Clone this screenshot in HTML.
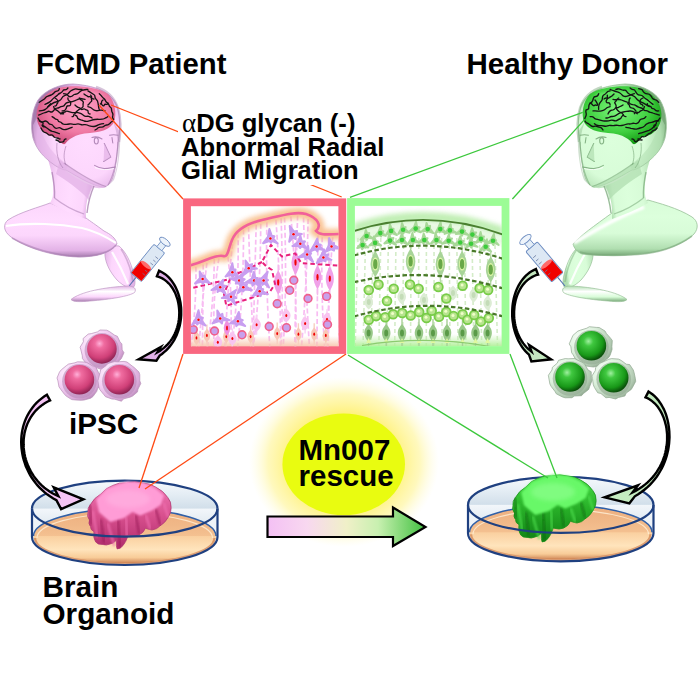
<!DOCTYPE html>
<html><head><meta charset="utf-8"><style>html,body{margin:0;padding:0;background:#fff;width:700px;height:700px;overflow:hidden}svg{display:block}</style></head><body><svg width="700" height="700" viewBox="0 0 700 700"><defs>
<radialGradient id="glow" cx="0.5" cy="0.5" r="0.5">
  <stop offset="0" stop-color="#fff050" stop-opacity="1"/>
  <stop offset="0.55" stop-color="#fff070" stop-opacity="0.95"/>
  <stop offset="0.8" stop-color="#fff59a" stop-opacity="0.65"/>
  <stop offset="1" stop-color="#fffbd0" stop-opacity="0"/>
</radialGradient>
<linearGradient id="arrowg" x1="0" y1="0" x2="1" y2="0">
  <stop offset="0" stop-color="#f4c0f4"/>
  <stop offset="0.25" stop-color="#f8d8f0"/>
  <stop offset="0.5" stop-color="#f0f0c8"/>
  <stop offset="0.7" stop-color="#c8f0b0"/>
  <stop offset="1" stop-color="#40c040"/>
</linearGradient>
<filter id="blur2" x="-20%" y="-20%" width="140%" height="140%"><feGaussianBlur stdDeviation="2"/></filter>
<filter id="blur1"><feGaussianBlur stdDeviation="0.8"/></filter>
<filter id="blur6" x="-50%" y="-50%" width="200%" height="200%"><feGaussianBlur stdDeviation="8"/></filter>

<linearGradient id="pk_sh" x1="0" y1="0" x2="0" y2="1">
  <stop offset="0" stop-color="#fcd6fc"/><stop offset="0.3" stop-color="#ffdcff"/><stop offset="0.6" stop-color="#fcd6fc"/><stop offset="0.88" stop-color="#e2b2e6"/><stop offset="1" stop-color="#a67cae"/>
</linearGradient>
<linearGradient id="pk_nk" x1="0" y1="0" x2="1" y2="0.2">
  <stop offset="0" stop-color="#e2b2e6"/><stop offset="0.3" stop-color="#fcd6fc"/><stop offset="0.6" stop-color="#ffdcff"/><stop offset="0.9" stop-color="#fcd6fc"/><stop offset="1" stop-color="#e2b2e6"/>
</linearGradient>
<radialGradient id="pk_hd" cx="0.62" cy="0.55" r="0.62">
  <stop offset="0" stop-color="#ffdcff"/><stop offset="0.6" stop-color="#fcd6fc"/><stop offset="0.9" stop-color="#e2b2e6"/><stop offset="1" stop-color="#a67cae"/>
</radialGradient>
<linearGradient id="pk_arm" x1="0" y1="0" x2="0" y2="1">
  <stop offset="0" stop-color="#e2b2e6"/><stop offset="0.35" stop-color="#ffffff"/><stop offset="0.7" stop-color="#fcd6fc"/><stop offset="1" stop-color="#a67cae"/>
</linearGradient>
<radialGradient id="pk_br" cx="0.55" cy="0.4" r="0.6">
  <stop offset="0" stop-color="#ffa4c8"/><stop offset="0.65" stop-color="#f07aa4"/><stop offset="1" stop-color="#d0507e"/>
</radialGradient>

<linearGradient id="gr_sh" x1="0" y1="0" x2="0" y2="1">
  <stop offset="0" stop-color="#d8fcd8"/><stop offset="0.3" stop-color="#dcffdc"/><stop offset="0.6" stop-color="#d8fcd8"/><stop offset="0.88" stop-color="#b0deb0"/><stop offset="1" stop-color="#78a878"/>
</linearGradient>
<linearGradient id="gr_nk" x1="0" y1="0" x2="1" y2="0.2">
  <stop offset="0" stop-color="#b0deb0"/><stop offset="0.3" stop-color="#d8fcd8"/><stop offset="0.6" stop-color="#dcffdc"/><stop offset="0.9" stop-color="#d8fcd8"/><stop offset="1" stop-color="#b0deb0"/>
</linearGradient>
<radialGradient id="gr_hd" cx="0.62" cy="0.55" r="0.62">
  <stop offset="0" stop-color="#dcffdc"/><stop offset="0.6" stop-color="#d8fcd8"/><stop offset="0.9" stop-color="#b0deb0"/><stop offset="1" stop-color="#78a878"/>
</radialGradient>
<linearGradient id="gr_arm" x1="0" y1="0" x2="0" y2="1">
  <stop offset="0" stop-color="#b0deb0"/><stop offset="0.35" stop-color="#ffffff"/><stop offset="0.7" stop-color="#d8fcd8"/><stop offset="1" stop-color="#78a878"/>
</linearGradient>
<radialGradient id="gr_br" cx="0.55" cy="0.4" r="0.6">
  <stop offset="0" stop-color="#80f880"/><stop offset="0.65" stop-color="#40d040"/><stop offset="1" stop-color="#18a018"/>
</radialGradient>

<linearGradient id="glass" x1="0" y1="0" x2="0" y2="1">
  <stop offset="0" stop-color="#f6f9fc"/><stop offset="0.25" stop-color="#e4edf4"/><stop offset="0.49" stop-color="#d2dfea"/><stop offset="0.51" stop-color="#f2f6fa"/><stop offset="0.8" stop-color="#e0e9f1"/><stop offset="1" stop-color="#c8d6e2"/>
</linearGradient>
<linearGradient id="medium" x1="0" y1="0" x2="0" y2="1">
  <stop offset="0" stop-color="#eeae7e"/><stop offset="0.3" stop-color="#f0b888"/><stop offset="0.49" stop-color="#f4c090"/><stop offset="0.51" stop-color="#fad0a0"/><stop offset="0.75" stop-color="#ffe4bc"/><stop offset="0.9" stop-color="#f8cc98"/><stop offset="1" stop-color="#d08858"/>
</linearGradient>
<radialGradient id="pkc_sph" cx="0.42" cy="0.32" r="0.7">
  <stop offset="0" stop-color="#ffb0d8"/><stop offset="0.22" stop-color="#f06ca0"/><stop offset="0.7" stop-color="#d04078"/><stop offset="1" stop-color="#882050"/>
</radialGradient>
<radialGradient id="pkc_ring" cx="0.3" cy="0.3" r="0.85">
  <stop offset="0" stop-color="#fff4ff"/><stop offset="0.45" stop-color="#f4d0f4"/><stop offset="0.8" stop-color="#d8a8d8"/><stop offset="1" stop-color="#a878a8"/>
</radialGradient>
<radialGradient id="grc_sph" cx="0.4" cy="0.35" r="0.65">
  <stop offset="0" stop-color="#a0f0a0"/><stop offset="0.25" stop-color="#40c840"/><stop offset="0.75" stop-color="#189818"/><stop offset="1" stop-color="#0a500a"/>
</radialGradient>
<radialGradient id="grc_ring" cx="0.3" cy="0.3" r="0.85">
  <stop offset="0" stop-color="#f8fff8"/><stop offset="0.45" stop-color="#dcf0dc"/><stop offset="0.8" stop-color="#b0c8b0"/><stop offset="1" stop-color="#809880"/>
</radialGradient>
<linearGradient id="pko_org" x1="0" y1="0" x2="0" y2="1">
  <stop offset="0" stop-color="#f27ab8"/><stop offset="0.5" stop-color="#d8508e"/><stop offset="1" stop-color="#b02c6c"/>
</linearGradient>
<linearGradient id="gro_org" x1="0" y1="0" x2="0" y2="1">
  <stop offset="0" stop-color="#48e048"/><stop offset="0.5" stop-color="#28b028"/><stop offset="1" stop-color="#108014"/>
</linearGradient>

<filter id="blur3" x="-20%" y="-50%" width="140%" height="200%"><feGaussianBlur stdDeviation="2.6"/></filter>
<clipPath id="clipL"><rect x="191" y="206.2" width="147.6" height="140"/></clipPath>
<clipPath id="clipR"><rect x="355" y="206" width="147" height="140"/></clipPath>
<linearGradient id="botL" x1="0" y1="0" x2="0" y2="1"><stop offset="0" stop-color="#f8c8b0" stop-opacity="0"/><stop offset="1" stop-color="#f8c8b0"/></linearGradient>
<linearGradient id="topR" x1="0" y1="0" x2="0" y2="1"><stop offset="0" stop-color="#c0f0a8" stop-opacity="0"/><stop offset="0.6" stop-color="#c0f0a8" stop-opacity="0.75"/><stop offset="1" stop-color="#98e080"/></linearGradient>
<linearGradient id="botR" x1="0" y1="0" x2="0" y2="1"><stop offset="0" stop-color="#c0f0a8" stop-opacity="0"/><stop offset="1" stop-color="#b0f098"/></linearGradient>
</defs><rect width="700" height="700" fill="#fff"/><g><path d="M105 256 C104 249 111 245 119 246 C126 252 131 262 134 275 C136 283 135 288 131 288.5 C125 287 120 283 117 280 C110 272 106 264 105 256 Z" fill="url(#pk_nk)" stroke="#c09ac6" stroke-width="0.7"/><path d="M112 252 C118 262 123 272 128 284" fill="none" stroke="#ffffff" stroke-width="2.2" opacity="0.9"/><path d="M121 249 C127 258 131 268 133 282" fill="none" stroke="#a67cae" stroke-width="1.6" opacity="0.45"/><path d="M71 299.5 C80 292 105 287 128 286 C134 286 137 289 134.5 292.5 C130 296 110 299.5 90 301 C80 302 73 302 71 299.5 Z" fill="url(#pk_arm)" stroke="#c09ac6" stroke-width="0.7"/><path d="M50 203 C40 207 20 212 8 220 C3 224 3 231 11 237 C25 247 50 256 78 257 C95 257 110 254 117 244 C116 238 110 234 104 231 C96 225 90 221 86 218 Z" fill="url(#pk_sh)" stroke="#c09ac6" stroke-width="0.8"/><path d="M6 226 C30 222 60 224 82 228 C95 231 108 238 116 243" fill="none" stroke="#ffffff" stroke-width="2.2"/><path d="M12 238 C30 248 55 256 80 256.5 C98 256 110 252 116 245" fill="none" stroke="#a67cae" stroke-width="1.6" opacity="0.55"/><path d="M47 157 C52 170 54 185 53 194 C53 198 51 201 50 203 C62 210 75 215 86 219 C85 205 88 193 93 186 C82 182 70 175 60 166 Z" fill="url(#pk_nk)"/><path d="M73 84 C60 84 45 90 38 100 C32 110 30 125 33 138 C36 148 42 155 48 160 C55 166 62 170 66 170 C80 178 95 187 104 187 C108 186 111 183 113 177 C116 168 117 155 118 142 C120 132 121 118 117 106 C112 94 100 86 73 84Z" fill="url(#pk_hd)" stroke="#c09ac6" stroke-width="0.8"/><path d="M96 87 C106 90 114 97 118 108 C121 118 121 130 119 142" fill="none" stroke="#a67cae" stroke-width="2.4" opacity="0.45"/><path d="M33 125 C33 140 40 152 48 160 C55 166 62 170 66 170 L68 165 C58 158 50 150 45 140 C41 132 38 125 37 118 Z" fill="#e2b2e6" opacity="0.5"/><path d="M60 160 C72 170 90 182 107 187 C100 189 95 188 93 187 C90 192 89 196 89 200 C80 190 66 180 56 174 Z" fill="#e2b2e6" opacity="0.75"/><path d="M64 163 C78 173 92 182 106 186.5" fill="none" stroke="#a67cae" stroke-width="1.2" opacity="0.6"/><path d="M118 142 C117 160 114 175 108 185" fill="none" stroke="#a67cae" stroke-width="1.2" opacity="0.6"/><path d="M52 172 C54 182 55 190 54.5 198" fill="none" stroke="#a67cae" stroke-width="1.4" opacity="0.7"/><path d="M94 186 C90 195 88 204 87 213" fill="none" stroke="#a67cae" stroke-width="1.4" opacity="0.75"/><path d="M54.5 198 C62 204 72 210 84 214" fill="none" stroke="#a67cae" stroke-width="1.2" opacity="0.55"/><path d="M57 143 C56 152 58 162 63 168 M66 146 C64 152 63 158 66 165" fill="none" stroke="#a67cae" stroke-width="1" opacity="0.6"/><path d="M112 120 C118 130 119 150 117 165 C115 175 112 182 108 186 L114 180 C118 170 121 150 120 132 Z" fill="#a67cae" opacity="0.35"/><g fill="none" stroke="#a67cae" stroke-width="1.1" opacity="0.85" stroke-linecap="round"><ellipse cx="96.3" cy="140.8" rx="2" ry="3.2"/><path d="M92 137.5 C95 136.5 99 137 102 139"/><path d="M109.5 135.2 C112 134.6 115 134.6 118 135.2"/><path d="M112 137.5 C112.3 139.5 112.5 141.5 112.8 143"/><path d="M104.3 143.5 L110.7 157 L103.6 161.5"/><path d="M94.6 165.4 C98 167.5 101 168.6 104.3 168.6 C108 168.6 112 167.6 115.2 167"/></g><path d="M104.3 143.5 L110.7 157 L103.6 161.5 Z" fill="#e2b2e6" opacity="0.7"/><path d="M95 167.5 C101 170 108 170 114 168.5" fill="none" stroke="#ffffff" stroke-width="1" opacity="0.8"/><path d="M68 86.5 C55 87 44 94 39 104 C35 113 36 122 41 129 C46 135 52 137 57 137 C59 141 62 145 65 144 C68 140 74 134 90 133 C100 132 110 130 114 122 C117 114 115 101 108 94 C100 88 80 85.5 68 86.5 Z" fill="url(#pk_br)"/><path d="M45 104 C60 93 85 90 102 96" fill="none" stroke="#ffa4c8" stroke-width="3" opacity="0.5" filter="url(#blur1)"/><g fill="none" stroke="#141414" stroke-width="1.35" stroke-linecap="round" stroke-linejoin="round"><path d="M39.3 102.3 Q41.9 100.7 43.2 99.8 Q44.5 99.0 45.4 97.8 Q46.4 96.6 48.0 96.1 Q49.7 95.6 51.2 95.0 Q52.8 94.3 53.9 93.0 Q55.0 91.6 55.9 91.4 Q56.8 91.2 57.7 90.9 Q58.5 90.6 58.9 89.7 L59.3 88.7"/><path d="M45.0 104.4 Q48.4 102.9 49.8 101.9 Q51.3 100.9 52.4 99.4 Q53.6 98.0 55.0 97.0 Q56.4 96.1 57.7 94.9 Q58.9 93.6 60.5 93.0 Q62.1 92.3 62.7 91.0 Q63.2 89.7 64.7 89.8 Q66.2 89.8 67.1 88.9 L67.9 88.0"/><path d="M47.9 106.6 Q51.0 104.5 52.6 103.4 Q54.1 102.4 56.0 102.0 Q57.9 101.6 59.4 100.7 Q61.0 99.8 61.9 98.0 Q62.8 96.3 64.6 95.7 Q66.4 95.1 67.4 94.3 Q68.4 93.5 69.2 92.5 Q70.0 91.5 71.0 90.8 Q72.1 90.1 73.7 89.4 Q75.3 88.6 77.1 89.1 Q78.8 89.7 80.4 89.5 L82.1 89.4"/><path d="M63.6 93.7 Q66.7 93.9 67.8 95.4 Q68.8 96.9 70.5 96.7 Q72.1 96.6 73.0 95.4 Q74.0 94.3 75.6 94.2 Q77.2 94.2 78.2 93.3 Q79.3 92.3 80.5 91.3 Q81.8 90.2 83.3 90.0 Q84.8 89.7 86.4 89.5 L87.9 89.4"/><path d="M38.6 115.1 Q41.2 114.1 42.4 113.5 Q43.7 112.9 45.0 112.6 Q46.4 112.3 47.5 111.6 Q48.6 110.8 50.0 111.6 Q51.4 112.4 52.5 111.6 Q53.6 110.9 54.4 109.6 Q55.3 108.3 56.8 108.2 Q58.3 108.0 59.5 107.3 Q60.7 106.6 62.4 106.4 Q64.1 106.2 65.0 104.4 Q65.9 102.7 67.6 102.5 Q69.3 102.3 70.8 101.9 Q72.2 101.5 73.7 101.1 Q75.1 100.7 76.5 100.0 Q77.9 99.4 79.1 98.8 Q80.3 98.1 81.5 98.6 Q82.6 99.1 83.8 99.2 L85.0 99.4"/><path d="M79.3 98.0 Q80.6 99.6 81.4 100.2 Q82.3 100.7 83.0 101.5 Q83.6 102.3 83.2 103.2 Q82.9 104.1 83.1 105.2 Q83.4 106.3 82.7 107.2 Q82.1 108.0 80.6 108.6 Q79.2 109.2 78.0 110.2 Q76.8 111.1 75.9 112.4 Q75.0 113.7 74.4 114.0 Q73.7 114.4 73.7 115.3 Q73.7 116.3 72.9 116.5 L72.1 116.6"/><path d="M87.9 90.9 Q90.3 92.2 91.4 93.0 Q92.5 93.8 93.8 94.5 Q95.0 95.1 94.9 96.5 Q94.9 97.9 95.9 98.9 Q97.0 99.9 97.5 101.1 Q97.9 102.3 98.1 103.5 Q98.3 104.7 98.5 105.9 Q98.6 107.1 98.9 108.2 L99.3 109.4"/><path d="M99.3 93.7 Q101.3 95.5 102.0 96.7 Q102.8 97.8 103.9 98.6 Q105.0 99.4 105.5 100.7 Q106.0 102.0 107.4 102.9 Q108.7 103.7 109.0 105.1 Q109.3 106.6 110.4 107.2 Q111.5 107.9 111.5 109.1 Q111.5 110.2 111.8 111.3 Q112.1 112.3 112.7 113.4 Q113.2 114.5 112.7 115.9 Q112.2 117.2 112.9 118.3 L113.6 119.4"/><path d="M60.7 113.7 Q62.3 112.2 63.5 112.2 Q64.7 112.3 65.6 111.6 Q66.4 110.9 68.0 111.4 Q69.7 111.9 71.3 112.3 Q72.9 112.8 74.7 112.6 Q76.4 112.3 78.0 112.6 Q79.7 112.9 81.1 113.7 Q82.5 114.5 83.7 115.5 Q85.0 116.6 86.3 116.3 Q87.6 116.1 88.7 116.4 Q89.9 116.8 91.0 117.4 L92.1 118.0"/><path d="M75.0 115.1 Q77.2 115.8 77.3 117.1 Q77.5 118.4 78.4 118.9 Q79.3 119.4 80.9 119.9 Q82.6 120.3 84.2 121.0 Q85.8 121.6 87.5 121.3 Q89.3 120.9 91.2 120.3 Q93.0 119.8 94.9 119.5 Q96.8 119.2 98.8 119.3 Q100.7 119.4 102.0 119.2 Q103.3 119.1 104.5 118.5 Q105.7 117.9 106.8 117.3 L107.9 116.6"/><path d="M39.3 120.9 Q42.0 122.7 43.6 121.6 Q45.3 120.5 46.6 121.4 Q47.9 122.3 48.7 123.3 Q49.4 124.3 50.8 124.3 Q52.3 124.4 52.9 125.5 Q53.6 126.6 54.8 127.7 Q56.0 128.8 57.8 128.0 Q59.7 127.2 60.9 128.3 Q62.1 129.4 63.9 129.6 Q65.7 129.7 67.3 129.1 Q68.9 128.5 70.5 127.9 L72.1 127.3"/><path d="M42.1 125.1 Q45.2 126.7 46.5 127.8 Q47.9 128.9 49.3 129.9 Q50.7 130.9 52.2 131.3 Q53.6 131.6 55.1 132.1 Q56.5 132.6 57.9 133.2 L59.3 133.7"/><path d="M52.1 116.6 Q54.0 117.6 54.8 118.4 Q55.6 119.2 56.7 119.3 Q57.9 119.4 58.1 120.6 Q58.4 121.7 59.7 121.8 Q61.1 121.9 61.6 122.8 Q62.1 123.7 63.5 124.1 Q65.0 124.4 66.4 124.4 Q67.8 124.3 69.3 124.0 Q70.7 123.7 72.6 124.2 Q74.4 124.6 76.4 124.1 Q78.4 123.5 80.3 124.3 Q82.1 125.1 83.9 124.7 Q85.6 124.3 87.2 125.0 Q88.8 125.8 90.5 126.2 Q92.1 126.6 94.1 126.5 Q96.1 126.3 97.8 125.1 Q99.6 124.0 101.6 123.8 L103.6 123.7"/><path d="M87.9 106.6 Q91.1 107.2 92.2 108.6 Q93.4 109.9 94.9 110.4 Q96.4 110.9 97.8 110.7 Q99.3 110.4 100.7 110.2 Q102.1 110.1 103.6 110.5 L105.0 110.9"/><path d="M39.3 110.9 Q41.8 110.6 43.0 110.4 Q44.3 110.2 45.3 109.4 Q46.4 108.7 47.1 107.9 Q47.9 107.1 48.6 106.2 Q49.3 105.4 50.0 104.5 L50.7 103.7"/><path d="M53.6 106.6 Q54.2 108.8 55.2 109.3 Q56.1 109.8 57.0 110.4 Q57.9 110.9 58.7 111.7 Q59.5 112.5 60.3 113.1 Q61.2 113.8 62.4 113.7 L63.6 113.7"/><path d="M90.7 95.1 Q92.1 96.8 91.6 98.0 Q91.1 99.1 91.6 100.0 Q92.1 100.9 91.3 101.5 Q90.4 102.0 89.9 102.9 Q89.3 103.7 88.6 104.4 L87.9 105.1"/><path d="M67.9 98.0 Q67.7 100.5 69.2 100.9 Q70.7 101.4 70.7 102.5 Q70.7 103.7 70.5 104.9 Q70.2 106.1 68.5 105.8 Q66.8 105.6 66.6 106.8 Q66.4 108.0 65.9 108.8 Q65.5 109.7 64.8 110.3 Q64.1 110.8 63.1 110.9 L62.1 110.9"/><path d="M41.0 128.0 Q42.2 130.6 43.2 131.4 Q44.2 132.3 45.6 132.6 Q47.0 133.0 47.9 134.1 Q48.8 135.3 50.5 135.0 Q52.2 134.7 53.1 135.8 Q54.0 137.0 55.0 137.5 Q55.9 137.9 57.0 138.0 Q58.1 138.1 59.0 138.6 L60.0 139.0"/><path d="M38.0 118.0 Q38.9 119.8 39.5 120.5 Q40.0 121.3 41.0 121.7 Q42.0 122.0 42.7 122.7 Q43.5 123.3 42.8 124.6 Q42.0 125.9 43.0 126.4 L44.0 127.0"/><path d="M56.0 140.0 Q58.1 140.3 58.9 141.4 Q59.6 142.5 60.8 142.2 Q62.0 142.0 63.0 141.9 Q63.9 141.8 64.0 140.6 Q64.2 139.4 65.1 139.2 L66.0 139.0"/><path d="M103.0 100.0 Q101.4 100.9 101.6 102.0 Q101.7 103.2 100.8 103.6 Q100.0 104.0 100.9 104.0 Q101.7 103.9 102.1 104.8 Q102.5 105.6 103.3 105.8 Q104.0 106.0 104.3 105.0 Q104.6 104.0 105.9 104.3 Q107.1 104.6 107.6 103.8 L108.0 103.0"/><path d="M75.0 105.0 Q76.5 106.4 77.2 106.9 Q78.0 107.5 79.0 107.7 Q80.0 108.0 80.8 108.9 Q81.6 109.9 82.9 109.2 Q84.3 108.5 85.1 109.3 Q86.0 110.0 87.1 110.2 Q88.2 110.5 88.1 111.9 Q88.0 113.3 89.0 113.7 L90.0 114.0"/><path d="M55.0 98.0 Q56.9 99.1 57.4 100.0 Q57.9 100.8 57.9 101.9 Q58.0 103.0 57.4 103.4 Q56.8 103.8 56.7 104.7 Q56.6 105.6 55.8 105.8 L55.0 106.0"/><path d="M95.0 130.0 Q96.7 129.1 97.4 128.4 Q98.1 127.6 99.1 127.3 Q100.0 127.0 101.5 127.1 Q102.9 127.3 104.0 126.2 Q105.2 125.1 106.6 125.0 Q108.0 125.0 108.8 124.3 Q109.7 123.7 110.4 122.8 Q111.1 122.0 112.0 121.5 L113.0 121.0"/><path d="M84.0 94.0 Q85.3 95.1 86.1 95.3 Q87.0 95.5 87.5 96.3 Q88.0 97.0 89.2 96.7 Q90.4 96.4 91.1 97.6 Q91.9 98.7 92.9 98.9 L94.0 99.0"/></g></g><g transform="translate(698 0) scale(-1 1)"><path d="M105 256 C104 249 111 245 119 246 C126 252 131 262 134 275 C136 283 135 288 131 288.5 C125 287 120 283 117 280 C110 272 106 264 105 256 Z" fill="url(#gr_nk)" stroke="#98c098" stroke-width="0.7"/><path d="M112 252 C118 262 123 272 128 284" fill="none" stroke="#ffffff" stroke-width="2.2" opacity="0.9"/><path d="M121 249 C127 258 131 268 133 282" fill="none" stroke="#78a878" stroke-width="1.6" opacity="0.45"/><path d="M71 299.5 C80 292 105 287 128 286 C134 286 137 289 134.5 292.5 C130 296 110 299.5 90 301 C80 302 73 302 71 299.5 Z" fill="url(#gr_arm)" stroke="#98c098" stroke-width="0.7"/><path d="M50 200 C40 203 20 208 6 217 C0 221 -1 228 4 234 C14 244 35 252 58 254 C80 256 100 256 116 254 C121 252 124 248 125 244 C118 236 104 226 86 213 Z" fill="url(#gr_sh)" stroke="#98c098" stroke-width="0.8"/><path d="M54 207 C75 215 100 228 124 243" fill="none" stroke="#ffffff" stroke-width="3.5" filter="url(#blur1)"/><path d="M6 236 C20 246 40 253 60 254.5 C85 256 105 256 118 252" fill="none" stroke="#78a878" stroke-width="1.6" opacity="0.55"/><path d="M47 157 C52 170 54 185 53 194 C53 198 51 201 50 203 C62 210 75 215 86 219 C85 205 88 193 93 186 C82 182 70 175 60 166 Z" fill="url(#gr_nk)"/><path d="M73 84 C60 84 45 90 38 100 C32 110 30 125 33 138 C36 148 42 155 48 160 C55 166 62 170 66 170 C80 178 95 187 104 187 C108 186 111 183 113 177 C116 168 117 155 118 142 C120 132 121 118 117 106 C112 94 100 86 73 84Z" fill="url(#gr_hd)" stroke="#98c098" stroke-width="0.8"/><path d="M96 87 C106 90 114 97 118 108 C121 118 121 130 119 142" fill="none" stroke="#78a878" stroke-width="2.4" opacity="0.45"/><path d="M33 125 C33 140 40 152 48 160 C55 166 62 170 66 170 L68 165 C58 158 50 150 45 140 C41 132 38 125 37 118 Z" fill="#b0deb0" opacity="0.5"/><path d="M60 160 C72 170 90 182 107 187 C100 189 95 188 93 187 C90 192 89 196 89 200 C80 190 66 180 56 174 Z" fill="#b0deb0" opacity="0.75"/><path d="M64 163 C78 173 92 182 106 186.5" fill="none" stroke="#78a878" stroke-width="1.2" opacity="0.6"/><path d="M118 142 C117 160 114 175 108 185" fill="none" stroke="#78a878" stroke-width="1.2" opacity="0.6"/><path d="M52 172 C54 182 55 190 54.5 198" fill="none" stroke="#78a878" stroke-width="1.4" opacity="0.7"/><path d="M94 186 C90 195 88 204 87 213" fill="none" stroke="#78a878" stroke-width="1.4" opacity="0.75"/><path d="M54.5 198 C62 204 72 210 84 214" fill="none" stroke="#78a878" stroke-width="1.2" opacity="0.55"/><path d="M57 143 C56 152 58 162 63 168 M66 146 C64 152 63 158 66 165" fill="none" stroke="#78a878" stroke-width="1" opacity="0.6"/><path d="M112 120 C118 130 119 150 117 165 C115 175 112 182 108 186 L114 180 C118 170 121 150 120 132 Z" fill="#78a878" opacity="0.35"/><g fill="none" stroke="#78a878" stroke-width="1.1" opacity="0.85" stroke-linecap="round"><ellipse cx="96.3" cy="140.8" rx="2" ry="3.2"/><path d="M92 137.5 C95 136.5 99 137 102 139"/><path d="M109.5 135.2 C112 134.6 115 134.6 118 135.2"/><path d="M112 137.5 C112.3 139.5 112.5 141.5 112.8 143"/><path d="M104.3 143.5 L110.7 157 L103.6 161.5"/><path d="M94.6 165.4 C98 167.5 101 168.6 104.3 168.6 C108 168.6 112 167.6 115.2 167"/></g><path d="M104.3 143.5 L110.7 157 L103.6 161.5 Z" fill="#b0deb0" opacity="0.7"/><path d="M95 167.5 C101 170 108 170 114 168.5" fill="none" stroke="#ffffff" stroke-width="1" opacity="0.8"/><path d="M68 86.5 C55 87 44 94 39 104 C35 113 36 122 41 129 C46 135 52 137 57 137 C59 141 62 145 65 144 C68 140 74 134 90 133 C100 132 110 130 114 122 C117 114 115 101 108 94 C100 88 80 85.5 68 86.5 Z" fill="url(#gr_br)"/><path d="M45 104 C60 93 85 90 102 96" fill="none" stroke="#80f880" stroke-width="3" opacity="0.5" filter="url(#blur1)"/><g fill="none" stroke="#141414" stroke-width="1.35" stroke-linecap="round" stroke-linejoin="round"><path d="M39.3 102.3 Q41.2 99.8 43.0 99.7 Q44.8 99.5 45.6 98.1 Q46.4 96.6 47.6 95.3 Q48.7 94.0 50.6 93.9 Q52.4 93.8 53.7 92.7 Q55.0 91.6 55.4 90.6 Q55.8 89.7 56.6 89.4 Q57.5 89.1 58.4 88.9 L59.3 88.7"/><path d="M45.0 104.4 Q47.8 102.2 49.2 101.0 Q50.5 99.8 52.1 98.9 Q53.6 98.0 54.7 96.6 Q55.9 95.3 57.9 95.2 Q59.8 95.1 61.0 93.7 Q62.1 92.3 62.7 91.0 Q63.2 89.8 64.6 89.6 Q66.0 89.4 66.9 88.7 L67.9 88.0"/><path d="M47.9 106.6 Q51.3 105.1 52.9 104.1 Q54.5 103.1 56.2 102.3 Q57.9 101.6 59.4 100.6 Q60.9 99.6 62.0 98.1 Q63.1 96.6 64.7 95.9 Q66.4 95.1 67.6 94.6 Q68.9 94.1 69.8 93.3 Q70.8 92.4 71.4 91.3 Q72.1 90.1 73.8 90.2 Q75.5 90.3 77.1 89.5 Q78.7 88.7 80.4 89.0 L82.1 89.4"/><path d="M63.6 93.7 Q66.5 94.5 67.8 95.2 Q69.2 95.8 70.7 96.2 Q72.1 96.6 73.6 96.4 Q75.1 96.2 76.0 94.9 Q76.9 93.7 78.1 93.0 Q79.3 92.3 80.7 91.8 Q82.2 91.4 83.6 91.0 Q85.1 90.6 86.5 90.0 L87.9 89.4"/><path d="M38.6 115.1 Q41.2 114.1 42.6 113.9 Q43.9 113.6 45.2 113.0 Q46.4 112.3 47.6 112.3 Q48.9 112.3 49.9 111.3 Q51.0 110.4 52.3 110.6 Q53.6 110.9 54.4 109.6 Q55.3 108.3 56.7 108.0 Q58.2 107.7 59.4 107.2 Q60.7 106.6 62.0 105.6 Q63.3 104.6 65.1 104.6 Q66.8 104.5 68.1 103.4 Q69.3 102.3 70.8 102.1 Q72.3 101.8 73.7 101.2 Q75.1 100.6 76.5 100.0 Q77.9 99.4 79.1 99.5 Q80.3 99.6 81.5 99.7 Q82.6 99.9 83.8 99.6 L85.0 99.4"/><path d="M79.3 98.0 Q81.2 99.0 81.5 100.1 Q81.8 101.2 82.7 101.8 Q83.6 102.3 83.1 103.2 Q82.6 104.1 82.1 105.0 Q81.7 105.9 81.9 106.9 Q82.1 108.0 81.2 109.3 Q80.3 110.6 79.1 111.5 Q77.8 112.4 76.4 113.0 Q75.0 113.7 74.9 114.5 Q74.7 115.4 74.2 115.8 Q73.6 116.2 72.9 116.4 L72.1 116.6"/><path d="M87.9 90.9 Q90.8 91.4 91.6 92.8 Q92.3 94.2 93.7 94.6 Q95.0 95.1 95.3 96.4 Q95.6 97.7 95.7 99.0 Q95.8 100.4 96.8 101.3 Q97.9 102.3 98.4 103.4 Q99.0 104.5 99.2 105.7 Q99.5 106.9 99.4 108.2 L99.3 109.4"/><path d="M99.3 93.7 Q100.3 96.5 102.2 96.5 Q104.1 96.5 104.5 98.0 Q105.0 99.4 105.4 100.8 Q105.9 102.1 107.3 102.9 Q108.7 103.7 109.0 105.2 Q109.3 106.6 109.2 107.9 Q109.0 109.1 110.7 109.5 Q112.4 109.8 112.2 111.1 Q112.1 112.3 111.8 113.6 Q111.6 114.9 112.1 116.0 Q112.6 117.1 113.1 118.3 L113.6 119.4"/><path d="M60.7 113.7 Q62.4 112.4 63.5 112.1 Q64.5 111.8 65.4 111.3 Q66.4 110.9 68.1 111.0 Q69.8 111.1 71.4 111.4 Q73.1 111.7 74.7 112.0 Q76.4 112.3 77.9 112.9 Q79.4 113.5 80.7 114.5 Q81.9 115.6 83.5 116.1 Q85.0 116.6 86.2 116.5 Q87.5 116.4 88.6 117.2 Q89.7 117.9 90.9 118.0 L92.1 118.0"/><path d="M75.0 115.1 Q76.4 116.6 76.8 117.6 Q77.3 118.6 78.3 119.0 Q79.3 119.4 80.9 120.3 Q82.4 121.2 84.2 120.5 Q86.1 119.8 87.7 120.4 Q89.3 120.9 91.2 121.0 Q93.2 121.1 95.1 120.8 Q97.0 120.5 98.8 119.9 Q100.7 119.4 102.0 119.1 Q103.3 118.9 104.2 117.7 Q105.1 116.5 106.5 116.6 L107.9 116.6"/><path d="M39.3 120.9 Q42.3 120.5 43.6 121.4 Q45.0 122.3 46.4 122.3 Q47.9 122.3 49.0 122.8 Q50.1 123.4 51.1 123.9 Q52.2 124.5 52.9 125.5 Q53.6 126.6 55.0 127.1 Q56.4 127.5 57.9 128.0 Q59.3 128.5 60.7 128.9 Q62.1 129.4 63.8 129.0 Q65.4 128.6 67.1 128.3 Q68.7 127.9 70.4 127.6 L72.1 127.3"/><path d="M42.1 125.1 Q44.7 127.4 46.0 128.5 Q47.4 129.6 49.0 130.3 Q50.7 130.9 52.1 131.4 Q53.5 131.9 55.0 132.3 Q56.4 132.8 57.9 133.2 L59.3 133.7"/><path d="M52.1 116.6 Q53.5 118.6 54.6 118.7 Q55.7 118.9 56.8 119.2 Q57.9 119.4 58.3 120.4 Q58.8 121.4 59.3 122.2 Q59.9 123.1 61.0 123.4 Q62.1 123.7 63.5 123.4 Q65.0 123.0 66.4 123.6 Q67.8 124.1 69.3 123.9 Q70.7 123.7 72.5 124.5 Q74.4 125.3 76.3 125.5 Q78.2 125.7 80.1 125.4 Q82.1 125.1 83.8 125.5 Q85.4 125.8 87.2 125.5 Q88.9 125.2 90.5 125.9 Q92.1 126.6 94.0 126.0 Q95.9 125.4 98.0 125.7 Q100.1 126.0 101.9 124.9 L103.6 123.7"/><path d="M87.9 106.6 Q91.2 107.2 92.2 108.6 Q93.3 109.9 94.9 110.4 Q96.4 110.9 97.8 111.1 Q99.3 111.3 100.7 111.1 Q102.1 110.8 103.6 110.9 L105.0 110.9"/><path d="M39.3 110.9 Q42.0 111.4 42.9 109.9 Q43.7 108.5 45.1 108.6 Q46.4 108.7 46.6 107.4 Q46.8 106.2 48.6 106.2 Q50.3 106.3 50.5 105.0 L50.7 103.7"/><path d="M53.6 106.6 Q54.2 108.9 54.9 109.6 Q55.6 110.4 56.7 110.6 Q57.9 110.9 58.6 111.9 Q59.3 112.8 60.8 112.3 Q62.2 111.7 62.9 112.7 L63.6 113.7"/><path d="M90.7 95.1 Q90.6 97.2 90.6 98.2 Q90.7 99.2 91.4 100.0 Q92.1 100.9 91.7 101.9 Q91.3 102.9 89.8 102.8 Q88.3 102.7 88.1 103.9 L87.9 105.1"/><path d="M67.9 98.0 Q69.1 99.7 68.9 101.0 Q68.7 102.3 69.7 103.0 Q70.7 103.7 69.6 104.1 Q68.6 104.5 68.5 105.8 Q68.4 107.1 67.4 107.6 Q66.4 108.0 65.4 108.1 Q64.4 108.1 63.9 108.9 Q63.3 109.6 62.7 110.3 L62.1 110.9"/><path d="M41.0 128.0 Q42.6 130.2 44.0 130.4 Q45.5 130.7 46.3 131.8 Q47.0 133.0 48.4 133.3 Q49.7 133.6 50.6 134.8 Q51.5 135.9 52.8 136.5 Q54.0 137.0 55.2 136.7 Q56.4 136.5 57.1 137.8 Q57.8 139.1 58.9 139.0 L60.0 139.0"/><path d="M38.0 118.0 Q39.0 119.6 39.7 120.3 Q40.3 121.1 41.1 121.5 Q42.0 122.0 41.7 123.1 Q41.5 124.1 42.8 124.6 Q44.1 125.0 44.1 126.0 L44.0 127.0"/><path d="M56.0 140.0 Q58.3 139.6 59.3 140.0 Q60.3 140.4 61.2 141.2 Q62.0 142.0 62.7 141.6 Q63.5 141.2 63.8 140.2 Q64.1 139.3 65.1 139.1 L66.0 139.0"/><path d="M103.0 100.0 Q101.9 101.3 101.6 102.1 Q101.3 102.9 100.7 103.5 Q100.0 104.0 100.5 104.8 Q100.9 105.5 101.9 105.2 Q102.9 104.8 103.5 105.4 Q104.0 106.0 104.7 105.5 Q105.4 105.0 105.9 104.3 Q106.4 103.7 107.2 103.3 L108.0 103.0"/><path d="M75.0 105.0 Q76.6 106.1 77.6 106.3 Q78.6 106.5 79.3 107.2 Q80.0 108.0 81.2 107.7 Q82.4 107.4 83.1 108.6 Q83.9 109.7 84.9 109.9 Q86.0 110.0 87.0 110.4 Q87.9 110.8 88.5 111.5 Q89.1 112.2 89.6 113.1 L90.0 114.0"/><path d="M55.0 98.0 Q57.2 99.0 57.6 99.9 Q57.9 100.8 58.0 101.9 Q58.0 103.0 57.6 103.6 Q57.2 104.2 56.4 104.4 Q55.6 104.6 55.3 105.3 L55.0 106.0"/><path d="M95.0 130.0 Q96.1 128.0 97.0 127.6 Q97.9 127.3 99.0 127.2 Q100.0 127.0 101.3 126.4 Q102.5 125.8 104.1 126.3 Q105.6 126.8 106.8 125.9 Q108.0 125.0 108.8 124.3 Q109.7 123.7 110.7 123.2 Q111.7 122.8 112.4 121.9 L113.0 121.0"/><path d="M84.0 94.0 Q85.2 95.2 85.8 95.7 Q86.4 96.3 87.2 96.6 Q88.0 97.0 88.9 97.8 Q89.7 98.5 91.0 98.1 Q92.2 97.7 93.1 98.4 L94.0 99.0"/></g></g><g transform="translate(129.3 285.7) rotate(-51) scale(1 1)">
<line x1="0" y1="0" x2="11" y2="0" stroke="#5070b0" stroke-width="1"/>
<rect x="10.8" y="-7" width="37" height="14" rx="1.5" fill="#dde8f4" stroke="#6c8cc0" stroke-width="0.9"/>
<path d="M11.3 -6.5 H26.5 V6.5 H11.3 Z" fill="#f00000"/>
<ellipse cx="26.5" cy="0" rx="2" ry="6.5" fill="#ff6a6a"/>
<path d="M18 5.5 V2.5 M22 5.5 V2.5 M31 5.5 V2 M35 5.5 V2.5 M39 5.5 V2" stroke="#6878a0" stroke-width="0.7"/>
<rect x="47.6" y="-3.2" width="7" height="6.4" fill="#e4eef8" stroke="#6c8cc0" stroke-width="0.8"/>
<ellipse cx="56.5" cy="0" rx="2.8" ry="6.4" fill="#eef4fb" stroke="#6c8cc0" stroke-width="0.9"/>
</g><g transform="translate(565 286) rotate(-130.4) scale(1.08 -1.08)">
<line x1="0" y1="0" x2="11" y2="0" stroke="#5070b0" stroke-width="1"/>
<rect x="10.8" y="-7" width="37" height="14" rx="1.5" fill="#dde8f4" stroke="#6c8cc0" stroke-width="0.9"/>
<path d="M11.3 -6.5 H26.5 V6.5 H11.3 Z" fill="#f00000"/>
<ellipse cx="26.5" cy="0" rx="2" ry="6.5" fill="#ff6a6a"/>
<path d="M18 5.5 V2.5 M22 5.5 V2.5 M31 5.5 V2 M35 5.5 V2.5 M39 5.5 V2" stroke="#6878a0" stroke-width="0.7"/>
<rect x="47.6" y="-3.2" width="7" height="6.4" fill="#e4eef8" stroke="#6c8cc0" stroke-width="0.8"/>
<ellipse cx="56.5" cy="0" rx="2.8" ry="6.4" fill="#eef4fb" stroke="#6c8cc0" stroke-width="0.9"/>
</g><path d="M122.2 349.9 L124.0 352.7 L121.4 358.5 L119.5 360.6 L115.0 365.0 L112.9 366.9 L106.7 369.1 L103.9 370.2 L97.4 368.0 L94.6 367.7 L88.3 365.6 L86.4 363.6 L82.4 358.5 L82.3 355.8 L80.9 349.9 L80.1 347.2 L83.4 341.7 L83.1 338.5 L88.2 334.1 L91.3 333.6 L97.4 331.9 L100.0 330.0 L106.8 330.2 L109.4 331.5 L114.7 335.2 L117.4 336.3 L120.0 341.9 L121.9 343.9 Z" fill="url(#pkc_ring)" stroke="#b890b8" stroke-width="0.7" stroke-linejoin="round"/><circle cx="101.9" cy="350.4" r="17.3" fill="#b888b8" opacity="0.6"/><circle cx="101.9" cy="348.9" r="14.8" fill="url(#pkc_sph)"/><path d="M101.5 380.8 L101.7 383.6 L97.5 388.8 L96.8 391.3 L93.0 396.5 L90.7 398.2 L84.2 400.0 L81.3 400.3 L74.7 399.9 L71.7 399.6 L66.2 396.1 L64.3 394.1 L60.6 389.2 L59.0 386.9 L57.9 380.8 L57.0 378.0 L59.5 372.0 L61.3 369.8 L66.3 365.7 L68.5 364.1 L74.9 362.8 L77.5 361.8 L84.1 362.0 L86.9 362.5 L92.4 365.8 L95.6 366.6 L98.4 372.4 L100.1 374.6 Z" fill="url(#pkc_ring)" stroke="#b890b8" stroke-width="0.7" stroke-linejoin="round"/><circle cx="79.4" cy="381.3" r="17.3" fill="#b888b8" opacity="0.6"/><circle cx="79.4" cy="379.8" r="14.8" fill="url(#pkc_sph)"/><path d="M139.8 380.8 L140.8 383.5 L138.0 389.1 L137.5 391.9 L132.6 396.1 L130.0 397.2 L123.8 398.8 L121.3 401.2 L114.7 399.2 L111.9 399.0 L105.5 396.7 L103.7 394.5 L99.7 389.5 L98.8 386.9 L97.9 380.8 L98.6 378.2 L100.1 372.3 L100.7 369.5 L106.1 365.6 L108.0 363.4 L114.5 361.6 L117.4 361.8 L124.1 361.4 L127.0 362.0 L132.2 366.0 L134.3 367.6 L139.0 372.1 L139.8 374.7 Z" fill="url(#pkc_ring)" stroke="#b890b8" stroke-width="0.7" stroke-linejoin="round"/><circle cx="119.3" cy="381.3" r="17.3" fill="#b888b8" opacity="0.6"/><circle cx="119.3" cy="379.8" r="14.8" fill="url(#pkc_sph)"/><path d="M611.9 346.7 L612.1 349.3 L610.2 355.0 L608.9 357.3 L604.0 361.2 L602.4 363.6 L596.3 366.4 L593.4 367.0 L586.6 366.1 L584.0 364.8 L578.2 361.9 L576.1 360.2 L573.1 354.8 L571.6 352.6 L570.9 346.7 L569.2 343.9 L571.8 338.0 L572.9 335.4 L577.9 331.1 L580.6 330.1 L586.8 328.2 L589.4 326.7 L596.2 327.4 L599.2 327.5 L605.0 331.0 L606.4 333.5 L610.6 338.2 L612.3 340.5 Z" fill="url(#grc_ring)" stroke="#90a890" stroke-width="0.7" stroke-linejoin="round"/><circle cx="591.4" cy="347.2" r="17.3" fill="#90a890" opacity="0.6"/><circle cx="591.4" cy="345.7" r="14.8" fill="url(#grc_sph)"/><path d="M591.3 378.0 L591.9 380.7 L589.6 386.7 L588.7 389.4 L583.5 393.5 L581.5 395.7 L574.5 396.0 L571.9 397.7 L565.1 397.8 L562.3 396.9 L556.3 393.8 L554.9 391.3 L551.1 386.4 L549.9 384.0 L548.8 378.0 L548.4 375.3 L552.0 370.0 L552.4 367.3 L557.2 363.2 L558.5 360.3 L565.2 358.6 L568.1 358.8 L574.8 358.5 L577.3 360.0 L583.3 362.7 L585.1 364.7 L588.0 370.0 L591.2 371.7 Z" fill="url(#grc_ring)" stroke="#90a890" stroke-width="0.7" stroke-linejoin="round"/><circle cx="570" cy="378.5" r="17.3" fill="#90a890" opacity="0.6"/><circle cx="570" cy="377" r="14.8" fill="url(#grc_sph)"/><path d="M635.4 378.7 L635.7 381.4 L632.7 387.1 L631.3 389.4 L626.2 393.1 L624.9 396.0 L618.4 397.5 L615.7 399.0 L609.1 397.4 L605.9 397.8 L600.9 393.5 L597.7 392.8 L594.3 387.3 L593.3 384.8 L592.5 378.7 L591.9 376.0 L595.3 370.6 L595.6 367.7 L600.2 363.1 L602.9 362.0 L608.9 359.2 L611.7 358.6 L618.6 359.1 L621.2 360.4 L626.3 364.2 L629.7 364.6 L633.3 370.0 L634.1 372.6 Z" fill="url(#grc_ring)" stroke="#90a890" stroke-width="0.7" stroke-linejoin="round"/><circle cx="613.7" cy="379.2" r="17.3" fill="#90a890" opacity="0.6"/><circle cx="613.7" cy="377.7" r="14.8" fill="url(#grc_sph)"/><ellipse cx="124.75" cy="508.6" rx="92.75" ry="28" fill="url(#glass)"/><path d="M32.0 508.6 V537 A92.75 28 0 0 0 217.5 537 V508.6 A92.75 28 0 0 1 32.0 508.6 Z" fill="#eef3f8"/><ellipse cx="124.75" cy="536" rx="91.25" ry="27" fill="url(#medium)"/><path d="M35.0 538 A89.75 25.5 0 0 0 214.5 538" fill="none" stroke="#d48a58" stroke-width="2.4" opacity="0.8"/><path d="M33.5 536 A91.25 27 0 0 1 216.0 536" fill="none" stroke="#3060a8" stroke-width="1.5"/><path d="M37.0 538 A87.75 24.5 0 0 1 212.5 538" fill="none" stroke="#fff0d8" stroke-width="1.2" opacity="0.8"/><path d="M32.0 508.6 A92.75 28 0 0 1 217.5 508.6" fill="none" stroke="#1f4080" stroke-width="2.2"/><path d="M126.6 482.9 Q119.5 482.0 112.9 485.4 Q105.8 487.8 100.9 494.0 Q94.0 497.9 90.6 504.3 Q87.2 507.9 88.0 512.9 Q86.6 516.3 89.5 520.0 Q87.9 523.5 90.6 526.6 Q90.2 529.8 94.0 531.7 Q92.9 538.0 95.7 542.0 Q97.7 544.8 103.0 544.5 Q105.7 545.9 111.0 543.7 Q112.7 544.0 116.3 540.3 Q116.0 546.7 117.1 548.9 Q119.8 549.3 123.1 545.4 Q125.8 542.4 128.3 535.1 Q134.6 537.0 138.6 535.1 Q143.8 532.9 145.4 528.3 Q150.7 530.0 152.0 530.0 Q157.7 528.9 159.1 526.6 Q165.6 522.5 167.7 518.0 Q171.6 512.5 171.1 507.7 Q171.5 501.8 167.7 497.4 Q163.5 490.9 155.7 487.1 Q150.1 483.2 142.0 482.9 Q134.9 480.8 126.6 482.9Z" fill="url(#pko_org)" stroke="#b03c74" stroke-width="0.8" stroke-linejoin="round"/><path d="M93 512 L97 536" stroke="#f070b0" stroke-width="2.6" opacity="0.7" fill="none" stroke-linecap="round" filter="url(#blur1)"/><path d="M101 520 L104 542" stroke="#901850" stroke-width="2.6" opacity="0.55" fill="none" stroke-linecap="round" filter="url(#blur1)"/><path d="M108 524 L114 545" stroke="#f070b0" stroke-width="2.6" opacity="0.7" fill="none" stroke-linecap="round" filter="url(#blur1)"/><path d="M118 520 L120 546" stroke="#901850" stroke-width="2.6" opacity="0.55" fill="none" stroke-linecap="round" filter="url(#blur1)"/><path d="M126 518 L127 536" stroke="#f070b0" stroke-width="2.6" opacity="0.7" fill="none" stroke-linecap="round" filter="url(#blur1)"/><path d="M136 516 L139 533" stroke="#901850" stroke-width="2.6" opacity="0.55" fill="none" stroke-linecap="round" filter="url(#blur1)"/><path d="M146 516 L150 528" stroke="#f070b0" stroke-width="2.6" opacity="0.7" fill="none" stroke-linecap="round" filter="url(#blur1)"/><path d="M156 510 L160 524" stroke="#901850" stroke-width="2.6" opacity="0.55" fill="none" stroke-linecap="round" filter="url(#blur1)"/><path d="M164 504 L168 516" stroke="#f070b0" stroke-width="2.6" opacity="0.7" fill="none" stroke-linecap="round" filter="url(#blur1)"/><path d="M90 506 L91 524" stroke="#901850" stroke-width="2.6" opacity="0.55" fill="none" stroke-linecap="round" filter="url(#blur1)"/><path d="M127.4 483.1 L108.1 489.6 L97.9 499.9 L100.4 511.4 L110.7 520.4 L123.6 516.6 L132.6 510.1 L140.3 514.0 L151.8 508.8 L159.5 503.7 L162.1 496.0 L154.4 489.6 L142.8 484.4Z" fill="#ff9cd6" stroke="#ff9cd6" stroke-width="3" stroke-linejoin="round" filter="url(#blur1)"/><ellipse cx="128" cy="499" rx="22" ry="9" fill="#ffb4e2" opacity="0.6" filter="url(#blur2)"/><g fill="none" stroke="#1f4080" stroke-width="2.2"><path d="M32.0 508.6 A92.75 28 0 0 0 217.5 508.6"/><path d="M32.0 508.6 V537 A92.75 28 0 0 0 217.5 537 V508.6"/></g><ellipse cx="560.75" cy="504.90000000000003" rx="92.75" ry="28" fill="url(#glass)"/><path d="M468.0 504.90000000000003 V533.3 A92.75 28 0 0 0 653.5 533.3 V504.90000000000003 A92.75 28 0 0 1 468.0 504.90000000000003 Z" fill="#eef3f8"/><ellipse cx="560.75" cy="532.3" rx="91.25" ry="27" fill="url(#medium)"/><path d="M471.0 534.3 A89.75 25.5 0 0 0 650.5 534.3" fill="none" stroke="#d48a58" stroke-width="2.4" opacity="0.8"/><path d="M469.5 532.3 A91.25 27 0 0 1 652.0 532.3" fill="none" stroke="#3060a8" stroke-width="1.5"/><path d="M473.0 534.3 A87.75 24.5 0 0 1 648.5 534.3" fill="none" stroke="#fff0d8" stroke-width="1.2" opacity="0.8"/><path d="M468.0 504.90000000000003 A92.75 28 0 0 1 653.5 504.90000000000003" fill="none" stroke="#1f4080" stroke-width="2.2"/><path d="M551.6 475.9 Q544.5 475.0 537.9 478.4 Q530.8 480.8 525.9 487.0 Q519.0 490.9 515.6 497.3 Q512.2 500.9 513.0 505.9 Q511.6 509.3 514.5 513.0 Q512.9 516.5 515.6 519.6 Q515.2 522.8 519.0 524.7 Q517.9 531.0 520.7 535.0 Q522.7 537.8 528.0 537.5 Q530.7 538.9 536.0 536.7 Q537.7 537.0 541.3 533.3 Q541.0 539.7 542.1 541.9 Q544.8 542.3 548.1 538.4 Q550.8 535.4 553.3 528.1 Q559.6 530.0 563.6 528.1 Q568.8 525.9 570.4 521.3 Q575.7 523.0 577.0 523.0 Q582.7 521.9 584.1 519.6 Q590.6 515.5 592.7 511.0 Q596.6 505.5 596.1 500.7 Q596.5 494.8 592.7 490.4 Q588.5 483.9 580.7 480.1 Q575.1 476.2 567.0 475.9 Q559.9 473.8 551.6 475.9Z" fill="url(#gro_org)" stroke="#1a901a" stroke-width="0.8" stroke-linejoin="round"/><path d="M518 505 L522 529" stroke="#50e050" stroke-width="2.6" opacity="0.7" fill="none" stroke-linecap="round" filter="url(#blur1)"/><path d="M526 513 L529 535" stroke="#086008" stroke-width="2.6" opacity="0.55" fill="none" stroke-linecap="round" filter="url(#blur1)"/><path d="M533 517 L539 538" stroke="#50e050" stroke-width="2.6" opacity="0.7" fill="none" stroke-linecap="round" filter="url(#blur1)"/><path d="M543 513 L545 539" stroke="#086008" stroke-width="2.6" opacity="0.55" fill="none" stroke-linecap="round" filter="url(#blur1)"/><path d="M551 511 L552 529" stroke="#50e050" stroke-width="2.6" opacity="0.7" fill="none" stroke-linecap="round" filter="url(#blur1)"/><path d="M561 509 L564 526" stroke="#086008" stroke-width="2.6" opacity="0.55" fill="none" stroke-linecap="round" filter="url(#blur1)"/><path d="M571 509 L575 521" stroke="#50e050" stroke-width="2.6" opacity="0.7" fill="none" stroke-linecap="round" filter="url(#blur1)"/><path d="M581 503 L585 517" stroke="#086008" stroke-width="2.6" opacity="0.55" fill="none" stroke-linecap="round" filter="url(#blur1)"/><path d="M589 497 L593 509" stroke="#50e050" stroke-width="2.6" opacity="0.7" fill="none" stroke-linecap="round" filter="url(#blur1)"/><path d="M515 499 L516 517" stroke="#086008" stroke-width="2.6" opacity="0.55" fill="none" stroke-linecap="round" filter="url(#blur1)"/><path d="M552.4 476.1 L533.1 482.6 L522.9 492.9 L525.4 504.4 L535.7 513.4 L548.6 509.6 L557.6 503.1 L565.3 507.0 L576.8 501.8 L584.5 496.7 L587.1 489.0 L579.4 482.6 L567.8 477.4Z" fill="#68f868" stroke="#68f868" stroke-width="3" stroke-linejoin="round" filter="url(#blur1)"/><ellipse cx="553" cy="492" rx="22" ry="9" fill="#90ff90" opacity="0.6" filter="url(#blur2)"/><g fill="none" stroke="#1f4080" stroke-width="2.2"><path d="M468.0 504.90000000000003 A92.75 28 0 0 0 653.5 504.90000000000003"/><path d="M468.0 504.90000000000003 V533.3 A92.75 28 0 0 0 653.5 533.3 V504.90000000000003"/></g><path d="M156.9 276.3 L158.8 276.9 L160.6 277.6 L162.3 278.4 L164.0 279.4 L165.6 280.6 L167.1 281.8 L168.6 283.3 L170.0 284.8 L171.3 286.5 L172.5 288.2 L173.6 290.1 L174.7 292.1 L175.6 294.1 L176.4 296.3 L177.2 298.5 L177.8 300.7 L178.3 303.0 L178.7 305.4 L179.0 307.8 L179.2 310.2 L179.3 312.7 L179.2 315.1 L179.1 317.6 L178.8 320.0 L178.4 322.5 L177.9 324.9 L177.2 327.3 L176.4 329.7 L175.5 332.0 L174.5 334.2 L173.4 336.4 L172.1 338.6 L170.7 340.6 L169.2 342.6 L167.6 344.4 L165.8 346.2 L163.9 347.9 L161.9 349.4 L159.8 350.9 L157.5 352.2 L160.7 347.1 L138.6 359.3 L156.4 360.7 L159.7 355.6 L162.0 354.0 L164.1 352.2 L166.2 350.4 L168.1 348.4 L169.8 346.4 L171.4 344.3 L172.9 342.1 L174.3 339.8 L175.5 337.5 L176.6 335.2 L177.5 332.8 L178.4 330.3 L179.1 327.9 L179.8 325.4 L180.3 322.8 L180.7 320.3 L181.0 317.8 L181.2 315.2 L181.2 312.7 L181.2 310.1 L181.1 307.6 L180.8 305.1 L180.5 302.6 L180.0 300.2 L179.5 297.8 L178.9 295.5 L178.1 293.1 L177.3 290.9 L176.3 288.7 L175.3 286.6 L174.2 284.6 L172.9 282.6 L171.6 280.7 L170.1 278.9 L168.5 277.2 L166.9 275.7 L165.1 274.2 L163.2 272.9 L161.1 271.7 L159.1 270.7 Z" fill="#e0b0e8" stroke="#000" stroke-width="2.4" stroke-linejoin="miter" stroke-miterlimit="8"/><path d="M46.9 394.8 L44.1 396.6 L41.4 398.6 L38.9 400.7 L36.5 402.9 L34.3 405.3 L32.4 407.7 L30.5 410.3 L28.9 412.9 L27.4 415.6 L26.1 418.3 L24.9 421.1 L23.9 424.0 L23.1 426.9 L22.4 429.9 L21.9 432.8 L21.5 435.9 L21.3 438.9 L21.2 441.9 L21.3 445.0 L21.5 448.1 L21.9 451.1 L22.4 454.2 L23.0 457.2 L23.8 460.2 L24.8 463.2 L25.8 466.2 L27.1 469.1 L28.5 472.0 L30.0 474.8 L31.6 477.5 L33.5 480.2 L35.4 482.8 L37.5 485.4 L39.8 487.8 L42.2 490.2 L44.7 492.4 L47.4 494.6 L50.3 496.6 L53.3 498.5 L56.4 500.2 L61.1 509.1 L83.4 499.4 L53.7 487.4 L58.4 496.2 L55.3 494.8 L52.4 493.2 L49.6 491.5 L46.9 489.6 L44.4 487.7 L42.0 485.6 L39.7 483.4 L37.6 481.0 L35.6 478.6 L33.8 476.1 L32.1 473.5 L30.6 470.9 L29.2 468.1 L27.9 465.3 L26.8 462.5 L25.9 459.6 L25.1 456.7 L24.5 453.8 L24.0 450.8 L23.7 447.9 L23.6 444.9 L23.6 442.0 L23.7 439.1 L24.1 436.2 L24.5 433.3 L25.2 430.5 L26.0 427.7 L26.9 425.0 L28.0 422.4 L29.3 419.9 L30.7 417.4 L32.3 415.0 L34.0 412.8 L35.8 410.6 L37.8 408.6 L40.0 406.7 L42.3 404.9 L44.7 403.3 L47.3 401.8 L50.1 400.4 Z" fill="#f4c4f4" stroke="#000" stroke-width="2.4" stroke-linejoin="miter" stroke-miterlimit="8"/><path d="M535.9 269.0 L533.7 270.1 L531.6 271.3 L529.6 272.6 L527.7 274.1 L525.9 275.7 L524.3 277.4 L522.7 279.2 L521.3 281.1 L520.0 283.1 L518.8 285.1 L517.7 287.3 L516.7 289.4 L515.8 291.7 L515.0 294.0 L514.3 296.4 L513.7 298.8 L513.2 301.2 L512.8 303.7 L512.5 306.1 L512.3 308.7 L512.2 311.2 L512.2 313.7 L512.2 316.3 L512.4 318.8 L512.7 321.4 L513.1 323.9 L513.5 326.4 L514.1 328.9 L514.8 331.3 L515.5 333.7 L516.4 336.1 L517.4 338.4 L518.4 340.7 L519.6 342.9 L520.9 345.1 L522.3 347.2 L523.8 349.2 L525.4 351.1 L527.1 352.9 L529.0 354.6 L531.4 361.4 L551.1 359.3 L529.1 344.9 L531.5 351.6 L529.7 350.1 L527.9 348.6 L526.3 347.0 L524.8 345.3 L523.3 343.4 L522.0 341.5 L520.7 339.5 L519.6 337.4 L518.6 335.2 L517.6 333.0 L516.8 330.7 L516.1 328.3 L515.5 326.0 L515.0 323.5 L514.6 321.1 L514.3 318.7 L514.1 316.2 L514.1 313.7 L514.1 311.3 L514.3 308.8 L514.5 306.4 L514.9 304.0 L515.4 301.6 L515.9 299.3 L516.6 297.1 L517.4 294.9 L518.3 292.7 L519.3 290.7 L520.4 288.7 L521.5 286.8 L522.8 285.0 L524.2 283.4 L525.6 281.8 L527.2 280.4 L528.8 279.1 L530.5 277.9 L532.3 276.9 L534.1 276.0 L536.0 275.2 L538.1 274.6 Z" fill="#c4e8c0" stroke="#000" stroke-width="2.4" stroke-linejoin="miter" stroke-miterlimit="8"/><path d="M645.5 397.4 L647.5 398.2 L649.4 399.2 L651.2 400.4 L652.9 401.8 L654.6 403.3 L656.2 405.0 L657.7 406.8 L659.1 408.8 L660.4 410.9 L661.6 413.1 L662.7 415.5 L663.7 417.9 L664.6 420.5 L665.3 423.1 L666.0 425.8 L666.5 428.6 L666.8 431.5 L667.1 434.4 L667.1 437.3 L667.1 440.3 L666.9 443.3 L666.5 446.3 L666.0 449.3 L665.4 452.3 L664.6 455.3 L663.6 458.3 L662.5 461.2 L661.2 464.1 L659.8 466.9 L658.1 469.7 L656.4 472.4 L654.4 475.0 L652.3 477.6 L650.0 480.0 L647.6 482.4 L644.9 484.6 L642.1 486.7 L639.1 488.7 L636.0 490.6 L632.6 492.3 L638.0 485.3 L604.6 497.3 L629.4 503.3 L634.8 496.3 L638.2 494.2 L641.4 492.0 L644.4 489.7 L647.2 487.3 L649.9 484.8 L652.3 482.2 L654.6 479.5 L656.7 476.7 L658.6 473.9 L660.3 471.0 L661.9 468.1 L663.4 465.1 L664.6 462.0 L665.7 459.0 L666.7 455.9 L667.5 452.8 L668.2 449.7 L668.7 446.6 L669.1 443.5 L669.3 440.4 L669.5 437.3 L669.4 434.3 L669.3 431.3 L669.0 428.3 L668.6 425.4 L668.1 422.5 L667.5 419.7 L666.7 416.9 L665.9 414.2 L664.9 411.6 L663.8 409.1 L662.5 406.7 L661.2 404.4 L659.7 402.2 L658.2 400.1 L656.5 398.1 L654.6 396.2 L652.7 394.5 L650.6 393.0 L648.5 391.6 Z" fill="#c4ecc0" stroke="#000" stroke-width="2.4" stroke-linejoin="miter" stroke-miterlimit="8"/><ellipse cx="344" cy="462" rx="95" ry="85" fill="url(#glow)"/><ellipse cx="343.7" cy="464.3" rx="61.3" ry="50.8" fill="#e9fc10"/><text x="298.5" y="460" font-size="29.5" font-family="Liberation Sans, sans-serif" font-weight="bold" fill="#000">Mn007</text><text x="298.5" y="486.3" font-size="29.5" font-family="Liberation Sans, sans-serif" font-weight="bold" fill="#000">rescue</text><path d="M267.5 516.5 H393 V507.5 L425.5 527 L393 546 V537 H267.5 Z" fill="url(#arrowg)" stroke="#000" stroke-width="2.2" stroke-linejoin="miter"/><g stroke="#ff4a14" stroke-width="1.3" fill="none"><line x1="111" y1="105" x2="341.7" y2="197"/><line x1="99" y1="105" x2="183" y2="199"/><line x1="183" y1="354" x2="139" y2="488"/><line x1="346" y1="354" x2="145" y2="489"/></g><g stroke="#3cc83c" stroke-width="1.3" fill="none"><line x1="582.7" y1="112.3" x2="350" y2="197.4"/><line x1="584.9" y1="119.1" x2="512.4" y2="199"/><line x1="348" y1="355" x2="548" y2="478"/><line x1="510" y1="354" x2="557" y2="478"/></g><rect x="178" y="110" width="180" height="75" fill="#fff"/><text x="36" y="74.3" font-size="29.3" font-family="Liberation Sans, sans-serif" font-weight="bold" fill="#000">FCMD Patient</text><text x="466.5" y="74" font-size="29.5" font-family="Liberation Sans, sans-serif" font-weight="bold" fill="#000">Healthy Donor</text><text x="182" y="131.9" font-size="25.6" font-family="Liberation Sans, sans-serif" font-weight="bold" fill="#000"><tspan font-family="Liberation Serif, serif" font-weight="normal" font-size="27">α</tspan>DG glycan (-)</text><text x="181" y="155.5" font-size="25.6" font-family="Liberation Sans, sans-serif" font-weight="bold" fill="#000">Abnormal Radial</text><text x="181" y="179.3" font-size="25.6" font-family="Liberation Sans, sans-serif" font-weight="bold" fill="#000">Glial Migration</text><text x="69" y="433.7" font-size="29.7" font-family="Liberation Sans, sans-serif" font-weight="bold" fill="#000">iPSC</text><text x="42.5" y="597" font-size="29.7" font-family="Liberation Sans, sans-serif" font-weight="bold" fill="#000">Brain</text><text x="42.5" y="623.5" font-size="29.7" font-family="Liberation Sans, sans-serif" font-weight="bold" fill="#000">Organoid</text><rect x="187" y="202.3" width="155.3" height="147.7" fill="#fff" stroke="#f96780" stroke-width="7.8"/><rect x="351" y="202" width="154.5" height="148" fill="#fff" stroke="#9cfc96" stroke-width="7.8"/><g clip-path="url(#clipL)"><g fill="none" stroke="#f8bcf2" stroke-width="1.7" stroke-dasharray="5 2.6"><path d="M188.7 268.8 Q190.8 307.4 190.3 348"/><path d="M195.9 266.7 Q196.4 306.3 190.9 348"/><path d="M203.2 264.5 Q202.9 305.3 202.4 348"/><path d="M206.9 262.9 Q201.7 304.5 199.0 348"/><path d="M214.3 258.9 Q213.8 302.4 207.3 348"/><path d="M218.9 258.3 Q212.0 302.1 214.2 348"/><path d="M228.0 256.7 Q232.9 301.4 230.3 348"/><path d="M232.5 243.9 Q227.0 295.0 224.9 348"/><path d="M238.0 232.7 Q239.3 289.3 231.6 348"/><path d="M243.5 229.6 Q243.7 287.8 237.6 348"/><path d="M248.5 226.8 Q250.5 286.4 253.5 348"/><path d="M256.2 224.7 Q254.5 285.4 253.0 348"/><path d="M260.7 223.8 Q260.7 284.9 253.3 348"/><path d="M266.9 222.3 Q265.5 284.2 269.9 348"/><path d="M275.9 219.7 Q280.7 282.9 280.4 348"/><path d="M281.1 218.3 Q283.4 282.1 281.2 348"/><path d="M284.5 217.6 Q287.1 281.8 283.2 348"/><path d="M290.8 216.3 Q297.1 281.1 295.7 348"/><path d="M297.6 215.5 Q295.7 280.8 294.8 348"/><path d="M303.5 217.5 Q305.4 281.7 309.5 348"/><path d="M308.1 219.0 Q306.9 282.5 301.4 348"/><path d="M318.0 235.5 Q317.4 290.7 316.9 348"/><path d="M322.2 237.2 Q320.7 291.6 324.7 348"/><path d="M328.4 237.4 Q329.6 291.7 328.2 348"/><path d="M332.7 237.3 Q328.4 291.6 327.1 348"/><path d="M341.7 237.0 Q341.1 291.5 338.6 348"/></g><path d="M188 266 C205 262 215 254 223 256 C228 258 228 250 232 240 C236 230 245 224 262 220 C280 216 295 211 306 214 C318 218 322 226 316 231 C320 236 330 234 342 234" fill="none" stroke="#f8b880" stroke-width="11" opacity="0.85" filter="url(#blur3)"/><path d="M188 266 C205 262 215 254 223 256 C228 258 228 250 232 240 C236 230 245 224 262 220 C280 216 295 211 306 214 C318 218 322 226 316 231 C320 236 330 234 342 234" fill="none" stroke="#f2609a" stroke-width="2.6"/><rect x="191" y="336" width="148" height="11" fill="url(#botL)"/><line x1="196.5" y1="326.9" x2="196.5" y2="348.9" stroke="#f8d0c0" stroke-width="1.4"/><path d="M196.5 330.9 Q203.15 337.9 196.5 344.9 Q189.85 337.9 196.5 330.9Z" fill="#f8c8b8"/><ellipse cx="196.5" cy="337.9" rx="0.9" ry="1.6" fill="#f00000"/><line x1="206.9" y1="324.4" x2="206.9" y2="346.4" stroke="#f8d0c0" stroke-width="1.4"/><path d="M206.9 328.4 Q213.55 335.4 206.9 342.4 Q200.25 335.4 206.9 328.4Z" fill="#f8c8b8"/><ellipse cx="206.9" cy="335.4" rx="0.9" ry="1.6" fill="#f00000"/><line x1="226.3" y1="325.6" x2="226.3" y2="347.6" stroke="#f8d0c0" stroke-width="1.4"/><path d="M226.3 329.6 Q232.95000000000002 336.6 226.3 343.6 Q219.65 336.6 226.3 329.6Z" fill="#f8c8b8"/><ellipse cx="226.3" cy="336.6" rx="0.9" ry="1.6" fill="#f00000"/><line x1="250.6" y1="325.6" x2="250.6" y2="347.6" stroke="#f8d0c0" stroke-width="1.4"/><path d="M250.6 329.6 Q257.25 336.6 250.6 343.6 Q243.95 336.6 250.6 329.6Z" fill="#f8c8b8"/><ellipse cx="250.6" cy="336.6" rx="0.9" ry="1.6" fill="#f00000"/><line x1="277.2" y1="322.6" x2="277.2" y2="344.6" stroke="#f8d0c0" stroke-width="1.4"/><path d="M277.2 326.6 Q283.84999999999997 333.6 277.2 340.6 Q270.55 333.6 277.2 326.6Z" fill="#f8c8b8"/><ellipse cx="277.2" cy="333.6" rx="0.9" ry="1.6" fill="#f00000"/><line x1="298.4" y1="323.2" x2="298.4" y2="345.2" stroke="#f8d0c0" stroke-width="1.4"/><path d="M298.4 327.2 Q305.04999999999995 334.2 298.4 341.2 Q291.75 334.2 298.4 327.2Z" fill="#f8c8b8"/><ellipse cx="298.4" cy="334.2" rx="0.9" ry="1.6" fill="#f00000"/><line x1="314.2" y1="323.2" x2="314.2" y2="345.2" stroke="#f8d0c0" stroke-width="1.4"/><path d="M314.2 327.2 Q320.84999999999997 334.2 314.2 341.2 Q307.55 334.2 314.2 327.2Z" fill="#f8c8b8"/><ellipse cx="314.2" cy="334.2" rx="0.9" ry="1.6" fill="#f00000"/><line x1="325.8" y1="324.4" x2="325.8" y2="346.4" stroke="#f8d0c0" stroke-width="1.4"/><path d="M325.8 328.4 Q332.45 335.4 325.8 342.4 Q319.15000000000003 335.4 325.8 328.4Z" fill="#f8c8b8"/><ellipse cx="325.8" cy="335.4" rx="0.9" ry="1.6" fill="#f00000"/><line x1="286.3" y1="305.6" x2="286.3" y2="325.6" stroke="#f8d0f4" stroke-width="1.4"/><path d="M286.3 308.6 Q294.85 315.6 286.3 322.6 Q277.75 315.6 286.3 308.6Z" fill="#f8c4f0"/><ellipse cx="286.3" cy="315.6" rx="1" ry="1.5" fill="#f00000"/><line x1="305.1" y1="313.5" x2="305.1" y2="333.5" stroke="#f8d0f4" stroke-width="1.4"/><path d="M305.1 316.5 Q313.65000000000003 323.5 305.1 330.5 Q296.55 323.5 305.1 316.5Z" fill="#f8c4f0"/><ellipse cx="305.1" cy="323.5" rx="1" ry="1.5" fill="#f00000"/><line x1="327" y1="309.2" x2="327" y2="329.2" stroke="#f8d0f4" stroke-width="1.4"/><path d="M327 312.2 Q335.55 319.2 327 326.2 Q318.45 319.2 327 312.2Z" fill="#f8c4f0"/><ellipse cx="327" cy="319.2" rx="1" ry="1.5" fill="#f00000"/><line x1="256.6" y1="314.7" x2="256.6" y2="334.7" stroke="#f8d0f4" stroke-width="1.4"/><path d="M256.6 317.7 Q265.15000000000003 324.7 256.6 331.7 Q248.05 324.7 256.6 317.7Z" fill="#f8c4f0"/><ellipse cx="256.6" cy="324.7" rx="1" ry="1.5" fill="#f00000"/><line x1="217.8" y1="332.3" x2="217.8" y2="352.3" stroke="#f8d0f4" stroke-width="1.4"/><path d="M217.8 335.3 Q226.35000000000002 342.3 217.8 349.3 Q209.25 342.3 217.8 335.3Z" fill="#f8c4f0"/><ellipse cx="217.8" cy="342.3" rx="1" ry="1.5" fill="#f00000"/><line x1="232.4" y1="328.6" x2="232.4" y2="348.6" stroke="#f8d0f4" stroke-width="1.4"/><path d="M232.4 331.6 Q240.95000000000002 338.6 232.4 345.6 Q223.85 338.6 232.4 331.6Z" fill="#f8c4f0"/><ellipse cx="232.4" cy="338.6" rx="1" ry="1.5" fill="#f00000"/><line x1="295.5" y1="244.5" x2="295.5" y2="280.5" stroke="#f4b8ec" stroke-width="1.4"/><path d="M295.5 250.5 Q303.575 262.5 295.5 274.5 Q287.425 262.5 295.5 250.5Z" fill="#f0a0e8"/><ellipse cx="295.5" cy="262.5" rx="1.1" ry="3.2" fill="#f00000"/><line x1="278.2" y1="264.5" x2="278.2" y2="300.5" stroke="#f4b8ec" stroke-width="1.4"/><path d="M278.2 270.5 Q286.275 282.5 278.2 294.5 Q270.125 282.5 278.2 270.5Z" fill="#f0a0e8"/><ellipse cx="278.2" cy="282.5" rx="1.1" ry="3.2" fill="#f00000"/><line x1="317.5" y1="259.3" x2="317.5" y2="295.3" stroke="#f4b8ec" stroke-width="1.4"/><path d="M317.5 265.3 Q325.575 277.3 317.5 289.3 Q309.425 277.3 317.5 265.3Z" fill="#f0a0e8"/><ellipse cx="317.5" cy="277.3" rx="1.1" ry="3.2" fill="#f00000"/><line x1="329.8" y1="260.7" x2="329.8" y2="296.7" stroke="#f4b8ec" stroke-width="1.4"/><path d="M329.8 266.7 Q337.875 278.7 329.8 290.7 Q321.725 278.7 329.8 266.7Z" fill="#f0a0e8"/><ellipse cx="329.8" cy="278.7" rx="1.1" ry="3.2" fill="#f00000"/><path d="M227 319.9 Q233.65 327.9 227 335.9 Q220.35 327.9 227 319.9Z" fill="#f090e0"/><ellipse cx="227" cy="327.9" rx="0.9" ry="2.5" fill="#f00000"/><circle cx="293.8" cy="280.3" r="3.9" fill="#c8a0ec" stroke="#f0608c" stroke-width="1.6"/><circle cx="289.7" cy="290.3" r="3.9" fill="#c8a0ec" stroke="#f0608c" stroke-width="1.6"/><circle cx="277.2" cy="303.7" r="3.9" fill="#c8a0ec" stroke="#f0608c" stroke-width="1.6"/><circle cx="308" cy="298.5" r="3.9" fill="#c8a0ec" stroke="#f0608c" stroke-width="1.6"/><circle cx="326.6" cy="296.4" r="3.9" fill="#c8a0ec" stroke="#f0608c" stroke-width="1.6"/><circle cx="269.2" cy="326.5" r="3.9" fill="#c8a0ec" stroke="#f0608c" stroke-width="1.6"/><circle cx="286.5" cy="327.7" r="3.9" fill="#c8a0ec" stroke="#f0608c" stroke-width="1.6"/><circle cx="327.5" cy="324.5" r="3.9" fill="#c8a0ec" stroke="#f0608c" stroke-width="1.6"/><circle cx="193.3" cy="329.6" r="3.9" fill="#c8a0ec" stroke="#f0608c" stroke-width="1.6"/><circle cx="214.5" cy="331" r="3.9" fill="#c8a0ec" stroke="#f0608c" stroke-width="1.6"/><circle cx="242" cy="334.8" r="3.9" fill="#c8a0ec" stroke="#f0608c" stroke-width="1.6"/><path d="M186 289.5 L230 279 L224 294 L226.3 305.7 L251.8 297.8 L270 291.7 L275 284 L272 270 L266 266 L262 262 L270.9 244.9 L281.9 256.5 L295.2 253.4 L301.3 263.1 L340 265.6 M262 262 L250 268 L232 276" fill="none" stroke="#e8207c" stroke-width="2" stroke-dasharray="4.5 3" stroke-linejoin="round"/><path d="M199.7 271.6 L202.8 276.2 L204.7 275.6 L205.4 278.4 L209.8 283.1 L204.2 281.5 L203.0 284.0 L201.2 281.7 L195.0 283.4 L199.9 278.1Z" fill="#c89ef0" stroke="#c89ef0" stroke-width="2" stroke-linejoin="round"/><circle cx="202.6" cy="279.1" r="3.3" fill="#c89ef0"/><circle cx="202.6" cy="279.1" r="1.8" fill="#e4ccfa"/><circle cx="202.6" cy="279.1" r="1.25" fill="#ff0000"/><path d="M223.2 279.8 L222.4 285.3 L225.8 286.0 L222.9 288.2 L225.6 294.0 L220.4 290.1 L217.5 292.0 L218.0 289.0 L211.5 290.0 L218.2 285.1Z" fill="#c89ef0" stroke="#c89ef0" stroke-width="2" stroke-linejoin="round"/><circle cx="220.2" cy="287.2" r="3.3" fill="#c89ef0"/><circle cx="220.2" cy="287.2" r="1.8" fill="#e4ccfa"/><circle cx="220.2" cy="287.2" r="1.25" fill="#ff0000"/><path d="M232.3 263.2 L233.5 269.6 L235.5 269.4 L235.3 272.2 L239.1 278.1 L233.6 275.0 L232.3 276.8 L231.0 274.8 L225.5 276.5 L229.9 270.9Z" fill="#c89ef0" stroke="#c89ef0" stroke-width="2" stroke-linejoin="round"/><circle cx="232.4" cy="272.3" r="3.3" fill="#c89ef0"/><circle cx="232.4" cy="272.3" r="1.8" fill="#e4ccfa"/><circle cx="232.4" cy="272.3" r="1.25" fill="#ff0000"/><path d="M243.3 272.6 L241.5 278.7 L244.7 279.3 L241.8 281.8 L243.0 289.3 L238.6 283.2 L235.8 283.6 L236.4 281.2 L230.1 278.6 L238.0 277.8Z" fill="#c89ef0" stroke="#c89ef0" stroke-width="2" stroke-linejoin="round"/><circle cx="239.2" cy="280.4" r="3.3" fill="#c89ef0"/><circle cx="239.2" cy="280.4" r="1.8" fill="#e4ccfa"/><circle cx="239.2" cy="280.4" r="1.25" fill="#ff0000"/><path d="M245.5 260.6 L249.1 265.3 L252.1 264.1 L251.4 267.0 L256.9 268.6 L251.3 269.5 L251.5 271.7 L248.7 271.1 L243.0 275.5 L245.8 267.8Z" fill="#c89ef0" stroke="#c89ef0" stroke-width="2" stroke-linejoin="round"/><circle cx="248.7" cy="268.2" r="3.3" fill="#c89ef0"/><circle cx="248.7" cy="268.2" r="1.8" fill="#e4ccfa"/><circle cx="248.7" cy="268.2" r="1.25" fill="#ff0000"/><path d="M253.8 271.9 L255.4 277.8 L257.6 277.9 L257.0 280.6 L260.9 287.0 L254.8 283.2 L252.4 285.7 L252.0 282.4 L245.0 282.8 L251.8 278.7Z" fill="#c89ef0" stroke="#c89ef0" stroke-width="2" stroke-linejoin="round"/><circle cx="254.1" cy="280.4" r="3.3" fill="#c89ef0"/><circle cx="254.1" cy="280.4" r="1.8" fill="#e4ccfa"/><circle cx="254.1" cy="280.4" r="1.25" fill="#ff0000"/><path d="M240.9 279.2 L244.2 284.4 L247.0 284.3 L246.2 286.7 L251.9 290.2 L244.9 289.6 L243.2 291.4 L242.2 289.9 L237.7 293.1 L240.5 286.5Z" fill="#c89ef0" stroke="#c89ef0" stroke-width="2" stroke-linejoin="round"/><circle cx="243.3" cy="287.2" r="3.3" fill="#c89ef0"/><circle cx="243.3" cy="287.2" r="1.8" fill="#e4ccfa"/><circle cx="243.3" cy="287.2" r="1.25" fill="#ff0000"/><path d="M267.7 271.8 L266.0 278.8 L268.1 280.1 L266.3 281.6 L269.1 287.5 L264.2 283.2 L262.5 284.9 L261.4 282.3 L255.4 280.9 L262.0 278.0Z" fill="#c89ef0" stroke="#c89ef0" stroke-width="2" stroke-linejoin="round"/><circle cx="263.6" cy="280.4" r="3.3" fill="#c89ef0"/><circle cx="263.6" cy="280.4" r="1.8" fill="#e4ccfa"/><circle cx="263.6" cy="280.4" r="1.25" fill="#ff0000"/><path d="M260.1 282.4 L261.1 288.8 L263.2 289.2 L262.5 291.0 L267.9 294.0 L261.5 293.5 L260.6 296.1 L258.5 294.0 L252.9 295.8 L257.1 289.9Z" fill="#c89ef0" stroke="#c89ef0" stroke-width="2" stroke-linejoin="round"/><circle cx="259.6" cy="291.3" r="3.3" fill="#c89ef0"/><circle cx="259.6" cy="291.3" r="1.8" fill="#e4ccfa"/><circle cx="259.6" cy="291.3" r="1.25" fill="#ff0000"/><path d="M236.0 290.0 L233.7 295.7 L236.3 298.0 L233.3 298.5 L235.1 304.5 L230.9 299.6 L228.2 301.0 L228.6 298.3 L221.8 298.1 L229.5 294.2Z" fill="#c89ef0" stroke="#c89ef0" stroke-width="2" stroke-linejoin="round"/><circle cx="231.0" cy="296.7" r="3.3" fill="#c89ef0"/><circle cx="231.0" cy="296.7" r="1.8" fill="#e4ccfa"/><circle cx="231.0" cy="296.7" r="1.25" fill="#ff0000"/><path d="M269.4 229.0 L271.8 235.8 L274.4 236.3 L273.3 238.6 L277.6 243.4 L271.9 240.9 L271.1 242.8 L269.2 241.1 L263.1 243.2 L267.8 237.2Z" fill="#c89ef0" stroke="#c89ef0" stroke-width="2" stroke-linejoin="round"/><circle cx="270.4" cy="238.4" r="3.3" fill="#c89ef0"/><circle cx="270.4" cy="238.4" r="1.8" fill="#e4ccfa"/><circle cx="270.4" cy="238.4" r="1.25" fill="#ff0000"/><path d="M289.7 225.9 L294.1 231.5 L297.0 231.1 L296.2 233.2 L301.8 234.1 L295.9 235.9 L295.4 239.1 L293.3 237.2 L289.2 241.8 L290.6 234.2Z" fill="#c89ef0" stroke="#c89ef0" stroke-width="2" stroke-linejoin="round"/><circle cx="293.5" cy="234.3" r="3.3" fill="#c89ef0"/><circle cx="293.5" cy="234.3" r="1.8" fill="#e4ccfa"/><circle cx="293.5" cy="234.3" r="1.25" fill="#ff0000"/><path d="M300.3 235.5 L301.8 241.3 L305.0 241.4 L303.2 244.0 L307.1 248.6 L301.6 246.4 L300.1 248.0 L298.5 246.1 L292.4 246.1 L298.0 242.1Z" fill="#c89ef0" stroke="#c89ef0" stroke-width="2" stroke-linejoin="round"/><circle cx="300.3" cy="243.8" r="3.3" fill="#c89ef0"/><circle cx="300.3" cy="243.8" r="1.8" fill="#e4ccfa"/><circle cx="300.3" cy="243.8" r="1.25" fill="#ff0000"/><path d="M317.2 238.6 L318.3 244.1 L320.8 244.8 L319.5 246.6 L323.9 250.1 L318.3 248.9 L317.3 251.5 L315.5 249.2 L310.1 251.6 L314.0 245.1Z" fill="#c89ef0" stroke="#c89ef0" stroke-width="2" stroke-linejoin="round"/><circle cx="316.6" cy="246.5" r="3.3" fill="#c89ef0"/><circle cx="316.6" cy="246.5" r="1.8" fill="#e4ccfa"/><circle cx="316.6" cy="246.5" r="1.25" fill="#ff0000"/><path d="M329.2 238.1 L332.0 243.6 L333.9 242.9 L334.2 245.4 L340.5 248.5 L333.9 248.2 L334.0 250.6 L331.1 249.4 L325.4 251.9 L328.7 245.7Z" fill="#c89ef0" stroke="#c89ef0" stroke-width="2" stroke-linejoin="round"/><circle cx="331.5" cy="246.5" r="3.3" fill="#c89ef0"/><circle cx="331.5" cy="246.5" r="1.8" fill="#e4ccfa"/><circle cx="331.5" cy="246.5" r="1.25" fill="#ff0000"/><path d="M308.1 245.8 L308.9 252.4 L311.1 253.3 L309.9 255.4 L313.1 261.9 L307.6 257.5 L305.5 258.9 L305.0 256.6 L298.4 257.4 L304.9 252.8Z" fill="#c89ef0" stroke="#c89ef0" stroke-width="2" stroke-linejoin="round"/><circle cx="307.1" cy="254.6" r="3.3" fill="#c89ef0"/><circle cx="307.1" cy="254.6" r="1.8" fill="#e4ccfa"/><circle cx="307.1" cy="254.6" r="1.25" fill="#ff0000"/><path d="M324.1 249.5 L325.0 255.0 L328.2 254.6 L326.3 257.1 L331.4 259.8 L325.6 259.2 L325.5 261.4 L322.8 260.3 L316.8 263.0 L320.8 256.1Z" fill="#c89ef0" stroke="#c89ef0" stroke-width="2" stroke-linejoin="round"/><circle cx="323.4" cy="257.4" r="3.3" fill="#c89ef0"/><circle cx="323.4" cy="257.4" r="1.8" fill="#e4ccfa"/><circle cx="323.4" cy="257.4" r="1.25" fill="#ff0000"/><path d="M198.5 310.2 L200.0 317.3 L202.8 317.7 L201.4 320.1 L205.6 325.5 L199.4 322.6 L197.1 324.6 L196.9 322.2 L192.0 324.9 L195.9 318.5Z" fill="#c89ef0" stroke="#c89ef0" stroke-width="2" stroke-linejoin="round"/><circle cx="198.5" cy="319.8" r="3.3" fill="#c89ef0"/><circle cx="198.5" cy="319.8" r="1.8" fill="#e4ccfa"/><circle cx="198.5" cy="319.8" r="1.25" fill="#ff0000"/><path d="M217.3 310.4 L220.4 315.5 L222.4 313.8 L222.8 317.1 L229.5 320.2 L222.4 320.3 L222.0 323.5 L219.3 321.1 L212.5 323.4 L217.5 317.5Z" fill="#c89ef0" stroke="#c89ef0" stroke-width="2" stroke-linejoin="round"/><circle cx="220.2" cy="318.4" r="3.3" fill="#c89ef0"/><circle cx="220.2" cy="318.4" r="1.8" fill="#e4ccfa"/><circle cx="220.2" cy="318.4" r="1.25" fill="#ff0000"/><path d="M238.8 312.0 L239.8 319.0 L242.8 320.1 L240.8 321.7 L245.2 326.0 L238.8 323.9 L236.3 326.1 L235.8 323.2 L229.9 323.6 L235.6 319.4Z" fill="#c89ef0" stroke="#c89ef0" stroke-width="2" stroke-linejoin="round"/><circle cx="237.9" cy="321.2" r="3.3" fill="#c89ef0"/><circle cx="237.9" cy="321.2" r="1.8" fill="#e4ccfa"/><circle cx="237.9" cy="321.2" r="1.25" fill="#ff0000"/></g><g clip-path="url(#clipR)"><path d="M354 233 Q428 209.2 503 236.6 L503 226.6 Q428 199.2 354 223 Z" fill="#b0eaa0" opacity="0.8" filter="url(#blur3)"/><path d="M354 236 Q428 212.2 503 239.6 L503 245 Q428 218 354 242 Z" fill="#c8f0b8" opacity="0.6" filter="url(#blur3)"/><g stroke="#d4ecc8" stroke-width="1.6" stroke-dasharray="4 3"><line x1="358.0" y1="238" x2="355.2" y2="346"/><line x1="365.6" y1="238" x2="363.1" y2="346"/><line x1="373.2" y1="238" x2="371.0" y2="346"/><line x1="380.8" y1="238" x2="378.9" y2="346"/><line x1="388.4" y1="238" x2="386.8" y2="346"/><line x1="396.0" y1="238" x2="394.7" y2="346"/><line x1="403.6" y1="238" x2="402.6" y2="346"/><line x1="411.2" y1="238" x2="410.5" y2="346"/><line x1="418.8" y1="238" x2="418.4" y2="346"/><line x1="426.4" y1="238" x2="426.3" y2="346"/><line x1="434.0" y1="238" x2="434.2" y2="346"/><line x1="441.6" y1="238" x2="442.1" y2="346"/><line x1="449.2" y1="238" x2="450.0" y2="346"/><line x1="456.8" y1="238" x2="458.0" y2="346"/><line x1="464.4" y1="238" x2="465.9" y2="346"/><line x1="472.0" y1="238" x2="473.8" y2="346"/><line x1="479.6" y1="238" x2="481.7" y2="346"/><line x1="487.2" y1="238" x2="489.6" y2="346"/><line x1="494.8" y1="238" x2="497.5" y2="346"/><line x1="502.4" y1="238" x2="505.4" y2="346"/></g><rect x="355" y="334" width="147" height="13" fill="url(#botR)"/><path d="M368.8 294.5 Q377.35 302 368.8 309.5 Q360.25 302 368.8 294.5Z" fill="#dcecd4"/><ellipse cx="368.8" cy="302" rx="1.98" ry="3.0" fill="#c4dcb8"/><path d="M401.7 289.2 Q410.25 296.7 401.7 304.2 Q393.15 296.7 401.7 289.2Z" fill="#dcecd4"/><ellipse cx="401.7" cy="296.7" rx="1.98" ry="3.0" fill="#c4dcb8"/><path d="M424 292.5 Q432.55 300 424 307.5 Q415.45 300 424 292.5Z" fill="#dcecd4"/><ellipse cx="424" cy="300" rx="1.98" ry="3.0" fill="#c4dcb8"/><path d="M453 285.5 Q461.55 293 453 300.5 Q444.45 293 453 285.5Z" fill="#dcecd4"/><ellipse cx="453" cy="293" rx="1.98" ry="3.0" fill="#c4dcb8"/><path d="M473.6 287.5 Q482.15000000000003 295 473.6 302.5 Q465.05 295 473.6 287.5Z" fill="#dcecd4"/><ellipse cx="473.6" cy="295" rx="1.98" ry="3.0" fill="#c4dcb8"/><path d="M487.6 295.4 Q496.15000000000003 302.9 487.6 310.4 Q479.05 302.9 487.6 295.4Z" fill="#dcecd4"/><ellipse cx="487.6" cy="302.9" rx="1.98" ry="3.0" fill="#c4dcb8"/><path d="M365.8 229.9 L367.3 233.9 L369.2 233.0 L368.8 235.5 L373.2 238.5 L367.9 237.8 L366.8 239.9 L365.5 238.0 L360.5 239.6 L364.6 235.0Z" fill="#a8d898" stroke="#a8d898" stroke-width="2" stroke-linejoin="round"/><circle cx="366.6" cy="236.0" r="2.6" fill="#a8d898"/><circle cx="366.6" cy="236.0" r="1.4" fill="#c0e4b0"/><path d="M380.9 226.5 L381.5 231.2 L383.2 231.3 L382.5 233.0 L385.8 235.9 L381.7 234.9 L381.1 236.5 L379.5 235.2 L374.6 236.9 L378.4 232.0Z" fill="#a8d898" stroke="#a8d898" stroke-width="2" stroke-linejoin="round"/><circle cx="380.3" cy="233.1" r="2.6" fill="#a8d898"/><circle cx="380.3" cy="233.1" r="1.4" fill="#c0e4b0"/><path d="M389.9 224.5 L391.8 228.8 L393.6 228.7 L393.3 230.8 L396.9 235.1 L391.9 233.0 L390.2 234.6 L389.9 232.8 L386.2 234.6 L389.0 230.1Z" fill="#a8d898" stroke="#a8d898" stroke-width="2" stroke-linejoin="round"/><circle cx="391.1" cy="230.9" r="2.6" fill="#a8d898"/><circle cx="391.1" cy="230.9" r="1.4" fill="#c0e4b0"/><path d="M402.0 222.9 L403.8 227.6 L405.6 227.1 L405.3 229.3 L409.7 232.7 L404.4 231.5 L403.4 233.2 L402.2 231.8 L398.2 233.9 L401.0 228.9Z" fill="#a8d898" stroke="#a8d898" stroke-width="2" stroke-linejoin="round"/><circle cx="403.1" cy="229.7" r="2.6" fill="#a8d898"/><circle cx="403.1" cy="229.7" r="1.4" fill="#c0e4b0"/><path d="M416.0 221.8 L417.1 226.8 L419.7 227.4 L417.9 229.0 L420.7 232.3 L416.4 230.7 L414.4 232.0 L414.1 230.2 L409.9 230.9 L413.9 227.3Z" fill="#a8d898" stroke="#a8d898" stroke-width="2" stroke-linejoin="round"/><circle cx="415.7" cy="228.6" r="2.6" fill="#a8d898"/><circle cx="415.7" cy="228.6" r="1.4" fill="#c0e4b0"/><path d="M426.5 222.9 L428.2 226.9 L430.1 225.8 L429.9 228.7 L433.4 233.1 L428.5 231.2 L426.9 232.3 L426.2 230.8 L421.6 231.5 L425.7 228.0Z" fill="#a8d898" stroke="#a8d898" stroke-width="2" stroke-linejoin="round"/><circle cx="427.7" cy="229.1" r="2.6" fill="#a8d898"/><circle cx="427.7" cy="229.1" r="1.4" fill="#c0e4b0"/><path d="M440.6 222.1 L441.4 227.2 L443.4 227.5 L442.4 229.2 L446.5 233.1 L441.1 231.2 L439.6 232.3 L439.1 231.0 L435.4 233.2 L438.2 228.1Z" fill="#a8d898" stroke="#a8d898" stroke-width="2" stroke-linejoin="round"/><circle cx="440.2" cy="229.1" r="2.6" fill="#a8d898"/><circle cx="440.2" cy="229.1" r="1.4" fill="#c0e4b0"/><path d="M450.6 224.1 L451.2 228.6 L452.9 228.9 L452.1 230.3 L456.2 232.6 L451.1 232.3 L449.7 233.8 L448.8 232.3 L444.6 233.9 L448.0 229.2Z" fill="#a8d898" stroke="#a8d898" stroke-width="2" stroke-linejoin="round"/><circle cx="449.9" cy="230.4" r="2.6" fill="#a8d898"/><circle cx="449.9" cy="230.4" r="1.4" fill="#c0e4b0"/><path d="M462.9 224.9 L463.5 229.9 L465.1 230.7 L464.2 231.8 L468.5 235.0 L463.1 233.5 L461.8 235.6 L460.7 233.4 L455.9 234.0 L460.2 230.2Z" fill="#a8d898" stroke="#a8d898" stroke-width="2" stroke-linejoin="round"/><circle cx="462.0" cy="231.6" r="2.6" fill="#a8d898"/><circle cx="462.0" cy="231.6" r="1.4" fill="#c0e4b0"/><path d="M472.1 228.3 L473.5 232.6 L476.2 232.5 L474.6 234.6 L477.9 237.5 L473.6 236.5 L472.4 238.2 L471.5 236.6 L467.4 238.8 L470.3 233.7Z" fill="#a8d898" stroke="#a8d898" stroke-width="2" stroke-linejoin="round"/><circle cx="472.4" cy="234.6" r="2.6" fill="#a8d898"/><circle cx="472.4" cy="234.6" r="1.4" fill="#c0e4b0"/><path d="M480.6 231.9 L481.8 236.9 L483.9 236.5 L483.1 238.7 L486.6 242.2 L482.1 240.8 L481.2 242.2 L480.0 241.0 L476.0 242.8 L478.9 238.0Z" fill="#a8d898" stroke="#a8d898" stroke-width="2" stroke-linejoin="round"/><circle cx="480.9" cy="238.9" r="2.6" fill="#a8d898"/><circle cx="480.9" cy="238.9" r="1.4" fill="#c0e4b0"/><path d="M493.9 234.0 L494.6 239.1 L496.1 240.2 L495.2 241.2 L498.6 244.9 L494.1 242.7 L493.4 245.0 L491.9 242.6 L487.2 243.4 L491.2 239.4Z" fill="#a8d898" stroke="#a8d898" stroke-width="2" stroke-linejoin="round"/><circle cx="493.0" cy="240.7" r="2.6" fill="#a8d898"/><circle cx="493.0" cy="240.7" r="1.4" fill="#c0e4b0"/><path d="M362.3 238.3 L363.8 243.2 L365.5 243.9 L364.8 245.1 L368.3 247.4 L363.8 247.0 L362.1 249.3 L361.4 247.0 L357.2 248.1 L360.6 244.0Z" fill="#a8d898" stroke="#a8d898" stroke-width="2" stroke-linejoin="round"/><circle cx="362.6" cy="245.1" r="2.6" fill="#a8d898"/><circle cx="362.6" cy="245.1" r="1.4" fill="#c0e4b0"/><path d="M373.8 236.5 L376.1 240.9 L377.9 241.4 L377.3 242.8 L381.1 245.4 L376.3 244.8 L375.1 246.3 L373.9 244.8 L369.3 245.5 L373.1 241.9Z" fill="#a8d898" stroke="#a8d898" stroke-width="2" stroke-linejoin="round"/><circle cx="375.1" cy="242.9" r="2.6" fill="#a8d898"/><circle cx="375.1" cy="242.9" r="1.4" fill="#c0e4b0"/><path d="M389.0 233.8 L390.8 238.5 L393.4 238.0 L392.2 240.6 L396.0 244.8 L391.1 242.6 L390.2 244.1 L388.9 242.5 L384.3 243.4 L388.0 239.6Z" fill="#a8d898" stroke="#a8d898" stroke-width="2" stroke-linejoin="round"/><circle cx="390.0" cy="240.6" r="2.6" fill="#a8d898"/><circle cx="390.0" cy="240.6" r="1.4" fill="#c0e4b0"/><path d="M402.2 232.6 L403.0 238.0 L404.9 237.8 L404.2 240.0 L407.8 244.7 L402.8 242.1 L401.4 243.4 L400.6 241.8 L396.2 242.4 L400.1 238.7Z" fill="#a8d898" stroke="#a8d898" stroke-width="2" stroke-linejoin="round"/><circle cx="402.0" cy="240.0" r="2.6" fill="#a8d898"/><circle cx="402.0" cy="240.0" r="1.4" fill="#c0e4b0"/><path d="M412.4 233.0 L413.7 237.9 L415.3 237.6 L415.1 239.6 L418.7 242.5 L414.1 241.9 L412.8 244.0 L411.9 242.0 L407.7 244.4 L410.8 239.1Z" fill="#a8d898" stroke="#a8d898" stroke-width="2" stroke-linejoin="round"/><circle cx="412.9" cy="240.0" r="2.6" fill="#a8d898"/><circle cx="412.9" cy="240.0" r="1.4" fill="#c0e4b0"/><path d="M423.7 233.6 L425.4 238.0 L427.5 238.3 L426.5 240.2 L429.2 243.9 L425.0 242.1 L423.3 243.5 L422.9 241.7 L418.7 242.8 L422.3 238.9Z" fill="#a8d898" stroke="#a8d898" stroke-width="2" stroke-linejoin="round"/><circle cx="424.3" cy="240.0" r="2.6" fill="#a8d898"/><circle cx="424.3" cy="240.0" r="1.4" fill="#c0e4b0"/><path d="M435.5 233.1 L437.3 237.9 L439.5 237.3 L438.7 239.8 L442.0 243.1 L437.5 242.0 L435.8 244.3 L435.3 241.9 L431.0 243.4 L434.5 239.1Z" fill="#a8d898" stroke="#a8d898" stroke-width="2" stroke-linejoin="round"/><circle cx="436.5" cy="240.0" r="2.6" fill="#a8d898"/><circle cx="436.5" cy="240.0" r="1.4" fill="#c0e4b0"/><path d="M448.8 234.5 L449.8 238.7 L452.0 238.4 L450.9 240.6 L454.9 244.2 L449.8 242.6 L448.7 243.9 L447.5 242.6 L442.2 243.9 L446.8 239.5Z" fill="#a8d898" stroke="#a8d898" stroke-width="2" stroke-linejoin="round"/><circle cx="448.7" cy="240.7" r="2.6" fill="#a8d898"/><circle cx="448.7" cy="240.7" r="1.4" fill="#c0e4b0"/><path d="M460.3 236.2 L461.4 240.6 L463.5 240.9 L462.4 242.4 L466.4 244.8 L461.8 244.0 L461.7 245.9 L459.4 244.6 L453.7 245.4 L458.3 241.3Z" fill="#a8d898" stroke="#a8d898" stroke-width="2" stroke-linejoin="round"/><circle cx="460.2" cy="242.5" r="2.6" fill="#a8d898"/><circle cx="460.2" cy="242.5" r="1.4" fill="#c0e4b0"/><path d="M471.1 237.2 L472.4 241.8 L475.1 242.1 L473.3 243.8 L477.5 246.8 L472.3 245.6 L471.2 247.4 L470.1 245.7 L465.8 247.7 L469.1 242.7Z" fill="#a8d898" stroke="#a8d898" stroke-width="2" stroke-linejoin="round"/><circle cx="471.1" cy="243.7" r="2.6" fill="#a8d898"/><circle cx="471.1" cy="243.7" r="1.4" fill="#c0e4b0"/><path d="M486.8 239.6 L487.2 245.1 L488.8 246.0 L487.9 247.3 L491.1 251.6 L486.1 249.0 L483.8 250.7 L484.2 248.5 L479.6 250.8 L483.8 245.6Z" fill="#a8d898" stroke="#a8d898" stroke-width="2" stroke-linejoin="round"/><circle cx="485.7" cy="246.8" r="2.6" fill="#a8d898"/><circle cx="485.7" cy="246.8" r="1.4" fill="#c0e4b0"/><circle cx="366.6" cy="236" r="2.3" fill="#3ccc3c"/><circle cx="380.3" cy="233.1" r="2.3" fill="#3ccc3c"/><circle cx="391.1" cy="230.9" r="2.3" fill="#3ccc3c"/><circle cx="403.1" cy="229.7" r="2.3" fill="#3ccc3c"/><circle cx="415.7" cy="228.6" r="2.3" fill="#3ccc3c"/><circle cx="427.7" cy="229.1" r="2.3" fill="#3ccc3c"/><circle cx="440.2" cy="229.1" r="2.3" fill="#3ccc3c"/><circle cx="449.9" cy="230.4" r="2.3" fill="#3ccc3c"/><circle cx="462" cy="231.6" r="2.3" fill="#3ccc3c"/><circle cx="472.4" cy="234.6" r="2.3" fill="#3ccc3c"/><circle cx="480.9" cy="238.9" r="2.3" fill="#3ccc3c"/><circle cx="493" cy="240.7" r="2.3" fill="#3ccc3c"/><circle cx="362.6" cy="245.1" r="2.3" fill="#3ccc3c"/><circle cx="375.1" cy="242.9" r="2.3" fill="#3ccc3c"/><circle cx="390" cy="240.6" r="2.3" fill="#3ccc3c"/><circle cx="402" cy="240" r="2.3" fill="#3ccc3c"/><circle cx="412.9" cy="240" r="2.3" fill="#3ccc3c"/><circle cx="424.3" cy="240" r="2.3" fill="#3ccc3c"/><circle cx="436.5" cy="240" r="2.3" fill="#3ccc3c"/><circle cx="448.7" cy="240.7" r="2.3" fill="#3ccc3c"/><circle cx="460.2" cy="242.5" r="2.3" fill="#3ccc3c"/><circle cx="471.1" cy="243.7" r="2.3" fill="#3ccc3c"/><circle cx="485.7" cy="246.8" r="2.3" fill="#3ccc3c"/><path d="M354 231 Q428 207.2 503 234.6" fill="none" stroke="#4a8030" stroke-width="1.8"/><line x1="375.3" y1="246.10000000000002" x2="375.3" y2="282.1" stroke="#b8dca8" stroke-width="1.4"/><path d="M375.3 251.10000000000002 Q384.8 264.1 375.3 277.1 Q365.8 264.1 375.3 251.10000000000002Z" fill="#a8d498"/><ellipse cx="375.3" cy="264.1" rx="3.0" ry="6.5" fill="#e0f8a8"/><ellipse cx="375.3" cy="264.1" rx="2.2" ry="5.2" fill="#68a848"/><line x1="410.6" y1="243.39999999999998" x2="410.6" y2="279.4" stroke="#b8dca8" stroke-width="1.4"/><path d="M410.6 248.39999999999998 Q420.1 261.4 410.6 274.4 Q401.1 261.4 410.6 248.39999999999998Z" fill="#a8d498"/><ellipse cx="410.6" cy="261.4" rx="3.0" ry="6.5" fill="#e0f8a8"/><ellipse cx="410.6" cy="261.4" rx="2.2" ry="5.2" fill="#68a848"/><line x1="440.4" y1="246.10000000000002" x2="440.4" y2="282.1" stroke="#b8dca8" stroke-width="1.4"/><path d="M440.4 251.10000000000002 Q449.9 264.1 440.4 277.1 Q430.9 264.1 440.4 251.10000000000002Z" fill="#a8d498"/><ellipse cx="440.4" cy="264.1" rx="3.0" ry="6.5" fill="#e0f8a8"/><ellipse cx="440.4" cy="264.1" rx="2.2" ry="5.2" fill="#68a848"/><line x1="462.1" y1="246.10000000000002" x2="462.1" y2="282.1" stroke="#b8dca8" stroke-width="1.4"/><path d="M462.1 251.10000000000002 Q471.6 264.1 462.1 277.1 Q452.6 264.1 462.1 251.10000000000002Z" fill="#a8d498"/><ellipse cx="462.1" cy="264.1" rx="3.0" ry="6.5" fill="#e0f8a8"/><ellipse cx="462.1" cy="264.1" rx="2.2" ry="5.2" fill="#68a848"/><line x1="490.7" y1="251.60000000000002" x2="490.7" y2="287.6" stroke="#b8dca8" stroke-width="1.4"/><path d="M490.7 256.6 Q500.2 269.6 490.7 282.6 Q481.2 269.6 490.7 256.6Z" fill="#a8d498"/><ellipse cx="490.7" cy="269.6" rx="3.0" ry="6.5" fill="#e0f8a8"/><ellipse cx="490.7" cy="269.6" rx="2.2" ry="5.2" fill="#68a848"/><line x1="368.6" y1="319.0" x2="368.6" y2="347.0" stroke="#a8d098" stroke-width="1.4"/><path d="M368.6 324.0 Q377.15000000000003 333 368.6 342.0 Q360.05 333 368.6 324.0Z" fill="#98c888"/><ellipse cx="368.6" cy="333" rx="1.98" ry="3.6" fill="#5a9a48"/><path d="M366.1 343 L368.6 338 L371.1 343Z" fill="#e0f8a0"/><line x1="386.2" y1="319.0" x2="386.2" y2="347.0" stroke="#a8d098" stroke-width="1.4"/><path d="M386.2 324.0 Q394.75 333 386.2 342.0 Q377.65 333 386.2 324.0Z" fill="#98c888"/><ellipse cx="386.2" cy="333" rx="1.98" ry="3.6" fill="#5a9a48"/><path d="M383.7 343 L386.2 338 L388.7 343Z" fill="#e0f8a0"/><line x1="402" y1="319.0" x2="402" y2="347.0" stroke="#a8d098" stroke-width="1.4"/><path d="M402 324.0 Q410.55 333 402 342.0 Q393.45 333 402 324.0Z" fill="#98c888"/><ellipse cx="402" cy="333" rx="1.98" ry="3.6" fill="#5a9a48"/><path d="M399.5 343 L402 338 L404.5 343Z" fill="#e0f8a0"/><line x1="419" y1="319.0" x2="419" y2="347.0" stroke="#a8d098" stroke-width="1.4"/><path d="M419 324.0 Q427.55 333 419 342.0 Q410.45 333 419 324.0Z" fill="#98c888"/><ellipse cx="419" cy="333" rx="1.98" ry="3.6" fill="#5a9a48"/><path d="M416.5 343 L419 338 L421.5 343Z" fill="#e0f8a0"/><line x1="433" y1="319.0" x2="433" y2="347.0" stroke="#a8d098" stroke-width="1.4"/><path d="M433 324.0 Q441.55 333 433 342.0 Q424.45 333 433 324.0Z" fill="#98c888"/><ellipse cx="433" cy="333" rx="1.98" ry="3.6" fill="#5a9a48"/><path d="M430.5 343 L433 338 L435.5 343Z" fill="#e0f8a0"/><line x1="447" y1="319.0" x2="447" y2="347.0" stroke="#a8d098" stroke-width="1.4"/><path d="M447 324.0 Q455.55 333 447 342.0 Q438.45 333 447 324.0Z" fill="#98c888"/><ellipse cx="447" cy="333" rx="1.98" ry="3.6" fill="#5a9a48"/><path d="M444.5 343 L447 338 L449.5 343Z" fill="#e0f8a0"/><line x1="462.5" y1="319.0" x2="462.5" y2="347.0" stroke="#a8d098" stroke-width="1.4"/><path d="M462.5 324.0 Q471.05 333 462.5 342.0 Q453.95 333 462.5 324.0Z" fill="#98c888"/><ellipse cx="462.5" cy="333" rx="1.98" ry="3.6" fill="#5a9a48"/><path d="M460.0 343 L462.5 338 L465.0 343Z" fill="#e0f8a0"/><line x1="475.5" y1="319.0" x2="475.5" y2="347.0" stroke="#a8d098" stroke-width="1.4"/><path d="M475.5 324.0 Q484.05 333 475.5 342.0 Q466.95 333 475.5 324.0Z" fill="#98c888"/><ellipse cx="475.5" cy="333" rx="1.98" ry="3.6" fill="#5a9a48"/><path d="M473.0 343 L475.5 338 L478.0 343Z" fill="#e0f8a0"/><line x1="487.6" y1="319.0" x2="487.6" y2="347.0" stroke="#a8d098" stroke-width="1.4"/><path d="M487.6 324.0 Q496.15000000000003 333 487.6 342.0 Q479.05 333 487.6 324.0Z" fill="#98c888"/><ellipse cx="487.6" cy="333" rx="1.98" ry="3.6" fill="#5a9a48"/><path d="M485.1 343 L487.6 338 L490.1 343Z" fill="#e0f8a0"/><circle cx="368.8" cy="290" r="4.4" fill="#b8e490" stroke="#78cc48" stroke-width="1.8"/><circle cx="368.3" cy="289.3" r="1.5" fill="#f0ffc8"/><circle cx="378.5" cy="284.6" r="4.4" fill="#b8e490" stroke="#78cc48" stroke-width="1.8"/><circle cx="378.0" cy="283.90000000000003" r="1.5" fill="#f0ffc8"/><circle cx="393.7" cy="288.8" r="4.4" fill="#b8e490" stroke="#78cc48" stroke-width="1.8"/><circle cx="393.2" cy="288.1" r="1.5" fill="#f0ffc8"/><circle cx="387" cy="301" r="4.4" fill="#b8e490" stroke="#78cc48" stroke-width="1.8"/><circle cx="386.5" cy="300.3" r="1.5" fill="#f0ffc8"/><circle cx="410" cy="284.6" r="4.4" fill="#b8e490" stroke="#78cc48" stroke-width="1.8"/><circle cx="409.5" cy="283.90000000000003" r="1.5" fill="#f0ffc8"/><circle cx="418.6" cy="288.8" r="4.4" fill="#b8e490" stroke="#78cc48" stroke-width="1.8"/><circle cx="418.1" cy="288.1" r="1.5" fill="#f0ffc8"/><circle cx="438.4" cy="287" r="4.4" fill="#b8e490" stroke="#78cc48" stroke-width="1.8"/><circle cx="437.9" cy="286.3" r="1.5" fill="#f0ffc8"/><circle cx="446.3" cy="298.5" r="4.4" fill="#b8e490" stroke="#78cc48" stroke-width="1.8"/><circle cx="445.8" cy="297.8" r="1.5" fill="#f0ffc8"/><circle cx="462.6" cy="285.8" r="4.4" fill="#b8e490" stroke="#78cc48" stroke-width="1.8"/><circle cx="462.1" cy="285.1" r="1.5" fill="#f0ffc8"/><circle cx="479.6" cy="288.2" r="4.4" fill="#b8e490" stroke="#78cc48" stroke-width="1.8"/><circle cx="479.1" cy="287.5" r="1.5" fill="#f0ffc8"/><circle cx="488.1" cy="290" r="4.4" fill="#b8e490" stroke="#78cc48" stroke-width="1.8"/><circle cx="487.6" cy="289.3" r="1.5" fill="#f0ffc8"/><circle cx="368.8" cy="319.8" r="4.4" fill="#b8e490" stroke="#78cc48" stroke-width="1.8"/><circle cx="368.3" cy="319.1" r="1.5" fill="#f0ffc8"/><circle cx="376.1" cy="316.1" r="4.4" fill="#b8e490" stroke="#78cc48" stroke-width="1.8"/><circle cx="375.6" cy="315.40000000000003" r="1.5" fill="#f0ffc8"/><circle cx="385.2" cy="317.3" r="4.4" fill="#b8e490" stroke="#78cc48" stroke-width="1.8"/><circle cx="384.7" cy="316.6" r="1.5" fill="#f0ffc8"/><circle cx="393.1" cy="314.3" r="4.4" fill="#b8e490" stroke="#78cc48" stroke-width="1.8"/><circle cx="392.6" cy="313.6" r="1.5" fill="#f0ffc8"/><circle cx="402.2" cy="313.1" r="4.4" fill="#b8e490" stroke="#78cc48" stroke-width="1.8"/><circle cx="401.7" cy="312.40000000000003" r="1.5" fill="#f0ffc8"/><circle cx="410.7" cy="315.5" r="4.4" fill="#b8e490" stroke="#78cc48" stroke-width="1.8"/><circle cx="410.2" cy="314.8" r="1.5" fill="#f0ffc8"/><circle cx="419.2" cy="311.9" r="4.4" fill="#b8e490" stroke="#78cc48" stroke-width="1.8"/><circle cx="418.7" cy="311.2" r="1.5" fill="#f0ffc8"/><circle cx="426.5" cy="317.9" r="4.4" fill="#b8e490" stroke="#78cc48" stroke-width="1.8"/><circle cx="426.0" cy="317.2" r="1.5" fill="#f0ffc8"/><circle cx="431.7" cy="310.7" r="4.4" fill="#b8e490" stroke="#78cc48" stroke-width="1.8"/><circle cx="431.2" cy="310.0" r="1.5" fill="#f0ffc8"/><circle cx="439" cy="316.8" r="4.4" fill="#b8e490" stroke="#78cc48" stroke-width="1.8"/><circle cx="438.5" cy="316.1" r="1.5" fill="#f0ffc8"/><circle cx="446.3" cy="311.9" r="4.4" fill="#b8e490" stroke="#78cc48" stroke-width="1.8"/><circle cx="445.8" cy="311.2" r="1.5" fill="#f0ffc8"/><circle cx="453.5" cy="316.1" r="4.4" fill="#b8e490" stroke="#78cc48" stroke-width="1.8"/><circle cx="453.0" cy="315.40000000000003" r="1.5" fill="#f0ffc8"/><circle cx="462.6" cy="314.3" r="4.4" fill="#b8e490" stroke="#78cc48" stroke-width="1.8"/><circle cx="462.1" cy="313.6" r="1.5" fill="#f0ffc8"/><circle cx="467.5" cy="319.8" r="4.4" fill="#b8e490" stroke="#78cc48" stroke-width="1.8"/><circle cx="467.0" cy="319.1" r="1.5" fill="#f0ffc8"/><circle cx="474.2" cy="314.9" r="4.4" fill="#b8e490" stroke="#78cc48" stroke-width="1.8"/><circle cx="473.7" cy="314.2" r="1.5" fill="#f0ffc8"/><circle cx="480.9" cy="321.6" r="4.4" fill="#b8e490" stroke="#78cc48" stroke-width="1.8"/><circle cx="480.4" cy="320.90000000000003" r="1.5" fill="#f0ffc8"/><circle cx="488.8" cy="318" r="4.4" fill="#b8e490" stroke="#78cc48" stroke-width="1.8"/><circle cx="488.3" cy="317.3" r="1.5" fill="#f0ffc8"/><g fill="none" stroke="#4a7a2a" stroke-width="2.2" stroke-dasharray="4.5 2.5"><path d="M354 255.5 Q428 234.25 503 258.8"/><path d="M354 282.2 Q428 265.25 503 288.5"/><path d="M354 316.5 Q428 295.1 503 316.5"/></g><path d="M362 345.5 Q428 334.5 495 347.5" fill="none" stroke="#8ccc70" stroke-width="1.2"/></g></svg></body></html>
